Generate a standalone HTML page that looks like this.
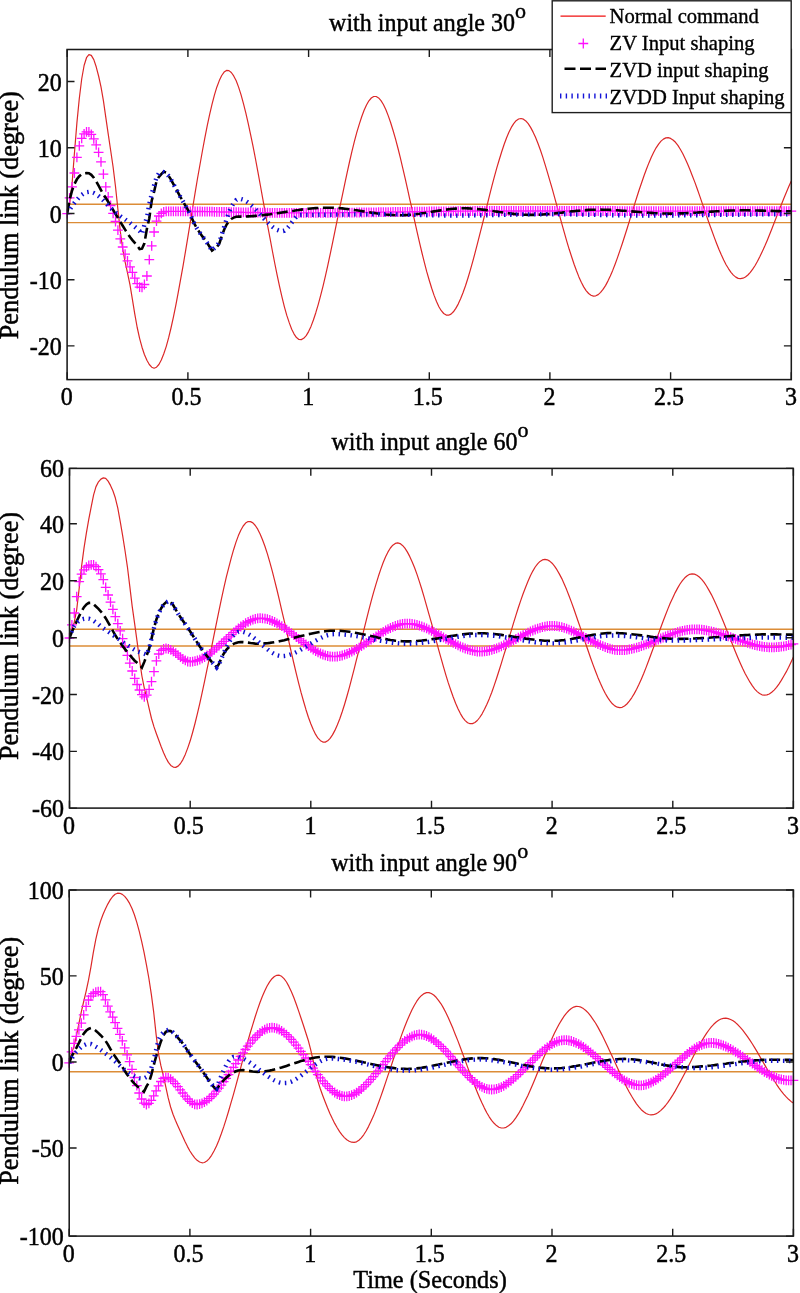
<!DOCTYPE html><html><head><meta charset="utf-8"><style>html,body{margin:0;padding:0;background:#fff;}svg{display:block}</style></head><body>
<svg width="800" height="1293" viewBox="0 0 800 1293" font-family="'Liberation Serif', 'Times New Roman', serif">
<rect width="800" height="1293" fill="#fff"/>
<clipPath id="c0"><rect x="67.1" y="49.5" width="724.2" height="330.1"/></clipPath>
<g stroke="#dc8c36" stroke-width="1.4"><line x1="67.1" y1="204.3" x2="791.3" y2="204.3"/><line x1="67.1" y1="222.6" x2="791.3" y2="222.6"/></g>
<polyline clip-path="url(#c0)" points="67.2,213.6 69.6,203.9 72.0,184.8 74.4,153.5 76.9,122.9 79.3,98.5 81.7,79.0 84.1,65.5 86.5,57.7 88.9,54.6 91.3,55.4 93.8,59.6 96.2,66.8 98.6,76.0 101.0,86.8 103.4,100.6 105.8,117.3 108.2,133.9 110.6,150.0 113.1,167.0 115.5,186.5 117.9,209.2 120.3,231.4 122.7,249.0 125.1,261.9 127.5,272.9 130.0,284.9 132.4,299.3 134.8,314.2 137.2,327.5 139.6,338.3 142.0,347.2 144.4,354.5 146.9,360.3 149.3,364.5 151.7,367.2 154.1,368.2 156.5,367.2 158.9,364.5 161.3,360.0 163.7,354.0 166.2,346.6 168.6,337.9 171.0,328.0 173.4,317.1 175.8,305.3 178.2,292.7 180.6,279.4 183.1,265.6 185.5,251.3 187.9,236.8 190.3,222.2 192.7,207.5 195.1,192.9 197.5,178.5 200.0,164.5 202.4,151.0 204.8,138.1 207.2,125.9 209.6,114.6 212.0,104.3 214.4,95.1 216.8,87.2 219.3,80.6 221.7,75.5 224.1,72.1 226.5,70.4 228.9,70.6 231.3,72.5 233.7,75.9 236.2,80.8 238.6,87.1 241.0,94.6 243.4,103.3 245.8,112.9 248.2,123.4 250.6,134.7 253.1,146.6 255.5,159.0 257.9,171.9 260.3,185.0 262.7,198.3 265.1,211.7 267.5,225.0 270.0,238.2 272.4,251.0 274.8,263.5 277.2,275.4 279.6,286.6 282.0,297.1 284.4,306.8 286.8,315.4 289.3,322.9 291.7,329.2 294.1,334.1 296.5,337.6 298.9,339.4 301.3,339.6 303.7,338.3 306.2,335.6 308.6,331.6 311.0,326.4 313.4,320.0 315.8,312.7 318.2,304.6 320.6,295.6 323.1,285.9 325.5,275.6 327.9,264.8 330.3,253.6 332.7,242.1 335.1,230.4 337.5,218.6 339.9,206.8 342.4,195.1 344.8,183.6 347.2,172.4 349.6,161.5 352.0,151.2 354.4,141.4 356.8,132.4 359.3,124.1 361.7,116.7 364.1,110.3 366.5,105.0 368.9,100.8 371.3,98.0 373.7,96.5 376.2,96.5 378.6,97.9 381.0,100.6 383.4,104.5 385.8,109.5 388.2,115.6 390.6,122.5 393.0,130.3 395.5,138.8 397.9,148.0 400.3,157.7 402.7,167.8 405.1,178.2 407.5,188.9 409.9,199.8 412.4,210.7 414.8,221.6 417.2,232.3 419.6,242.8 422.0,253.0 424.4,262.7 426.8,271.9 429.3,280.5 431.7,288.3 434.1,295.4 436.5,301.5 438.9,306.7 441.3,310.7 443.7,313.5 446.2,315.1 448.6,315.2 451.0,314.1 453.4,311.8 455.8,308.4 458.2,304.1 460.6,298.8 463.0,292.7 465.5,285.8 467.9,278.3 470.3,270.2 472.7,261.7 475.1,252.7 477.5,243.4 479.9,233.9 482.4,224.2 484.8,214.5 487.2,204.8 489.6,195.1 492.0,185.7 494.4,176.6 496.8,167.8 499.3,159.5 501.7,151.7 504.1,144.5 506.5,138.0 508.9,132.3 511.3,127.4 513.7,123.6 516.1,120.7 518.6,119.0 521.0,118.5 523.4,119.2 525.8,120.9 528.2,123.7 530.6,127.4 533.0,131.9 535.5,137.2 537.9,143.2 540.3,149.8 542.7,156.9 545.1,164.6 547.5,172.6 549.9,180.9 552.4,189.4 554.8,198.1 557.2,206.9 559.6,215.7 562.0,224.4 564.4,232.9 566.8,241.3 569.2,249.3 571.7,257.0 574.1,264.2 576.5,270.8 578.9,276.9 581.3,282.3 583.7,286.9 586.1,290.6 588.6,293.5 591.0,295.3 593.4,296.1 595.8,295.8 598.2,294.6 600.6,292.4 603.0,289.4 605.5,285.6 607.9,281.1 610.3,276.0 612.7,270.4 615.1,264.2 617.5,257.6 619.9,250.6 622.4,243.3 624.8,235.8 627.2,228.2 629.6,220.4 632.0,212.6 634.4,204.9 636.8,197.2 639.2,189.7 641.7,182.5 644.1,175.5 646.5,169.0 648.9,162.9 651.3,157.2 653.7,152.2 656.1,147.8 658.6,144.1 661.0,141.1 663.4,139.1 665.8,137.9 668.2,137.7 670.6,138.4 673.0,140.0 675.5,142.3 677.9,145.4 680.3,149.2 682.7,153.5 685.1,158.4 687.5,163.8 689.9,169.5 692.3,175.7 694.8,182.1 697.2,188.8 699.6,195.6 702.0,202.6 704.4,209.6 706.8,216.6 709.2,223.5 711.7,230.3 714.1,236.9 716.5,243.2 718.9,249.2 721.3,254.8 723.7,260.0 726.1,264.7 728.6,268.8 731.0,272.3 733.4,275.1 735.8,277.1 738.2,278.4 740.6,278.7 743.0,278.2 745.4,277.0 747.9,275.0 750.3,272.4 752.7,269.2 755.1,265.5 757.5,261.2 759.9,256.5 762.3,251.5 764.8,246.1 767.2,240.4 769.6,234.5 772.0,228.5 774.4,222.3 776.8,216.1 779.2,209.9 781.7,203.8 784.1,197.8 786.5,191.9 788.9,186.3 791.3,180.9" fill="none" stroke="#dc2828" stroke-width="1.2" stroke-linejoin="round"/>
<path d="M62.3 213.6h9.8M67.2 208.7v9.8M64.7 197.9h9.8M69.6 193.0v9.8M67.1 186.9h9.8M72.0 182.0v9.8M69.5 173.0h9.8M74.4 168.1v9.8M72.0 157.4h9.8M76.9 152.5v9.8M74.4 145.8h9.8M79.3 140.9v9.8M76.8 138.3h9.8M81.7 133.4v9.8M79.2 133.9h9.8M84.1 129.0v9.8M81.6 131.9h9.8M86.5 127.0v9.8M84.0 132.0h9.8M88.9 127.1v9.8M86.4 134.4h9.8M91.3 129.5v9.8M88.9 138.8h9.8M93.8 133.9v9.8M91.3 144.9h9.8M96.2 140.0v9.8M93.7 152.4h9.8M98.6 147.5v9.8M96.1 161.8h9.8M101.0 156.9v9.8M98.5 174.2h9.8M103.4 169.3v9.8M100.9 186.8h9.8M105.8 181.9v9.8M103.3 196.9h9.8M108.2 192.0v9.8M105.7 205.5h9.8M110.6 200.6v9.8M108.2 213.4h9.8M113.1 208.5v9.8M110.6 221.5h9.8M115.5 216.6v9.8M113.0 230.2h9.8M117.9 225.3v9.8M115.4 238.9h9.8M120.3 234.0v9.8M117.8 247.0h9.8M122.7 242.1v9.8M120.2 254.2h9.8M125.1 249.3v9.8M122.6 260.8h9.8M127.5 255.9v9.8M125.1 266.8h9.8M130.0 261.9v9.8M127.5 272.4h9.8M132.4 267.5v9.8M129.9 278.2h9.8M134.8 273.3v9.8M132.3 283.7h9.8M137.2 278.8v9.8M134.7 287.1h9.8M139.6 282.2v9.8M137.1 287.3h9.8M142.0 282.4v9.8M139.5 284.5h9.8M144.4 279.6v9.8M142.0 276.0h9.8M146.9 271.1v9.8M144.4 259.7h9.8M149.3 254.8v9.8M146.8 245.9h9.8M151.7 241.0v9.8M149.2 232.0h9.8M154.1 227.1v9.8M151.6 221.2h9.8M156.5 216.3v9.8M154.0 216.0h9.8M158.9 211.1v9.8M156.4 213.3h9.8M161.3 208.4v9.8M158.8 211.8h9.8M163.7 206.9v9.8M161.3 211.3h9.8M166.2 206.4v9.8M163.7 211.3h9.8M168.6 206.4v9.8M166.1 211.3h9.8M171.0 206.4v9.8M168.5 211.3h9.8M173.4 206.4v9.8M170.9 211.3h9.8M175.8 206.4v9.8M173.3 211.3h9.8M178.2 206.4v9.8M175.7 211.3h9.8M180.6 206.4v9.8M178.2 211.3h9.8M183.1 206.4v9.8M180.6 211.4h9.8M185.5 206.5v9.8M183.0 211.4h9.8M187.9 206.5v9.8M185.4 211.4h9.8M190.3 206.5v9.8M187.8 211.4h9.8M192.7 206.5v9.8M190.2 211.5h9.8M195.1 206.6v9.8M192.6 211.5h9.8M197.5 206.6v9.8M195.1 211.5h9.8M200.0 206.6v9.8M197.5 211.6h9.8M202.4 206.7v9.8M199.9 211.6h9.8M204.8 206.7v9.8M202.3 211.6h9.8M207.2 206.7v9.8M204.7 211.7h9.8M209.6 206.8v9.8M207.1 211.7h9.8M212.0 206.8v9.8M209.5 211.8h9.8M214.4 206.9v9.8M211.9 211.8h9.8M216.8 206.9v9.8M214.4 211.9h9.8M219.3 207.0v9.8M216.8 211.9h9.8M221.7 207.0v9.8M219.2 212.0h9.8M224.1 207.1v9.8M221.6 212.0h9.8M226.5 207.1v9.8M224.0 212.0h9.8M228.9 207.1v9.8M226.4 212.1h9.8M231.3 207.2v9.8M228.8 212.1h9.8M233.7 207.2v9.8M231.3 212.2h9.8M236.2 207.3v9.8M233.7 212.2h9.8M238.6 207.3v9.8M236.1 212.3h9.8M241.0 207.4v9.8M238.5 212.3h9.8M243.4 207.4v9.8M240.9 212.4h9.8M245.8 207.5v9.8M243.3 212.4h9.8M248.2 207.5v9.8M245.7 212.5h9.8M250.6 207.6v9.8M248.2 212.5h9.8M253.1 207.6v9.8M250.6 212.5h9.8M255.5 207.6v9.8M253.0 212.6h9.8M257.9 207.7v9.8M255.4 212.6h9.8M260.3 207.7v9.8M257.8 212.7h9.8M262.7 207.8v9.8M260.2 212.7h9.8M265.1 207.8v9.8M262.6 212.7h9.8M267.5 207.8v9.8M265.1 212.8h9.8M270.0 207.9v9.8M267.5 212.8h9.8M272.4 207.9v9.8M269.9 212.8h9.8M274.8 207.9v9.8M272.3 212.8h9.8M277.2 207.9v9.8M274.7 212.9h9.8M279.6 208.0v9.8M277.1 212.9h9.8M282.0 208.0v9.8M279.5 212.9h9.8M284.4 208.0v9.8M281.9 212.9h9.8M286.8 208.0v9.8M284.4 212.9h9.8M289.3 208.0v9.8M286.8 212.9h9.8M291.7 208.0v9.8M289.2 212.9h9.8M294.1 208.0v9.8M291.6 212.9h9.8M296.5 208.0v9.8M294.0 212.9h9.8M298.9 208.0v9.8M296.4 212.9h9.8M301.3 208.0v9.8M298.8 212.9h9.8M303.7 208.0v9.8M301.3 212.9h9.8M306.2 208.0v9.8M303.7 212.9h9.8M308.6 208.0v9.8M306.1 212.9h9.8M311.0 208.0v9.8M308.5 212.9h9.8M313.4 208.0v9.8M310.9 212.9h9.8M315.8 208.0v9.8M313.3 212.9h9.8M318.2 208.0v9.8M315.7 212.9h9.8M320.6 208.0v9.8M318.2 212.8h9.8M323.1 207.9v9.8M320.6 212.8h9.8M325.5 207.9v9.8M323.0 212.8h9.8M327.9 207.9v9.8M325.4 212.8h9.8M330.3 207.9v9.8M327.8 212.8h9.8M332.7 207.9v9.8M330.2 212.8h9.8M335.1 207.9v9.8M332.6 212.7h9.8M337.5 207.8v9.8M335.0 212.7h9.8M339.9 207.8v9.8M337.5 212.7h9.8M342.4 207.8v9.8M339.9 212.7h9.8M344.8 207.8v9.8M342.3 212.6h9.8M347.2 207.7v9.8M344.7 212.6h9.8M349.6 207.7v9.8M347.1 212.6h9.8M352.0 207.7v9.8M349.5 212.6h9.8M354.4 207.7v9.8M351.9 212.5h9.8M356.8 207.6v9.8M354.4 212.5h9.8M359.3 207.6v9.8M356.8 212.5h9.8M361.7 207.6v9.8M359.2 212.4h9.8M364.1 207.5v9.8M361.6 212.4h9.8M366.5 207.5v9.8M364.0 212.4h9.8M368.9 207.5v9.8M366.4 212.3h9.8M371.3 207.4v9.8M368.8 212.3h9.8M373.7 207.4v9.8M371.3 212.3h9.8M376.2 207.4v9.8M373.7 212.2h9.8M378.6 207.3v9.8M376.1 212.2h9.8M381.0 207.3v9.8M378.5 212.2h9.8M383.4 207.3v9.8M380.9 212.1h9.8M385.8 207.2v9.8M383.3 212.1h9.8M388.2 207.2v9.8M385.7 212.1h9.8M390.6 207.2v9.8M388.1 212.0h9.8M393.0 207.1v9.8M390.6 212.0h9.8M395.5 207.1v9.8M393.0 212.0h9.8M397.9 207.1v9.8M395.4 211.9h9.8M400.3 207.0v9.8M397.8 211.9h9.8M402.7 207.0v9.8M400.2 211.9h9.8M405.1 207.0v9.8M402.6 211.8h9.8M407.5 206.9v9.8M405.0 211.8h9.8M409.9 206.9v9.8M407.5 211.8h9.8M412.4 206.9v9.8M409.9 211.7h9.8M414.8 206.8v9.8M412.3 211.7h9.8M417.2 206.8v9.8M414.7 211.7h9.8M419.6 206.8v9.8M417.1 211.6h9.8M422.0 206.7v9.8M419.5 211.6h9.8M424.4 206.7v9.8M421.9 211.6h9.8M426.8 206.7v9.8M424.4 211.5h9.8M429.3 206.6v9.8M426.8 211.5h9.8M431.7 206.6v9.8M429.2 211.5h9.8M434.1 206.6v9.8M431.6 211.4h9.8M436.5 206.5v9.8M434.0 211.4h9.8M438.9 206.5v9.8M436.4 211.4h9.8M441.3 206.5v9.8M438.8 211.3h9.8M443.7 206.4v9.8M441.3 211.3h9.8M446.2 206.4v9.8M443.7 211.3h9.8M448.6 206.4v9.8M446.1 211.3h9.8M451.0 206.4v9.8M448.5 211.2h9.8M453.4 206.3v9.8M450.9 211.2h9.8M455.8 206.3v9.8M453.3 211.2h9.8M458.2 206.3v9.8M455.7 211.2h9.8M460.6 206.3v9.8M458.1 211.1h9.8M463.0 206.2v9.8M460.6 211.1h9.8M465.5 206.2v9.8M463.0 211.1h9.8M467.9 206.2v9.8M465.4 211.1h9.8M470.3 206.2v9.8M467.8 211.1h9.8M472.7 206.2v9.8M470.2 211.0h9.8M475.1 206.1v9.8M472.6 211.0h9.8M477.5 206.1v9.8M475.0 211.0h9.8M479.9 206.1v9.8M477.5 211.0h9.8M482.4 206.1v9.8M479.9 211.0h9.8M484.8 206.1v9.8M482.3 211.0h9.8M487.2 206.1v9.8M484.7 211.0h9.8M489.6 206.1v9.8M487.1 211.0h9.8M492.0 206.1v9.8M489.5 211.0h9.8M494.4 206.1v9.8M491.9 211.0h9.8M496.8 206.1v9.8M494.4 211.0h9.8M499.3 206.1v9.8M496.8 211.0h9.8M501.7 206.1v9.8M499.2 211.0h9.8M504.1 206.1v9.8M501.6 211.0h9.8M506.5 206.1v9.8M504.0 211.0h9.8M508.9 206.1v9.8M506.4 211.0h9.8M511.3 206.1v9.8M508.8 211.0h9.8M513.7 206.1v9.8M511.2 211.0h9.8M516.1 206.1v9.8M513.7 211.0h9.8M518.6 206.1v9.8M516.1 211.0h9.8M521.0 206.1v9.8M518.5 211.0h9.8M523.4 206.1v9.8M520.9 211.0h9.8M525.8 206.1v9.8M523.3 211.0h9.8M528.2 206.1v9.8M525.7 211.0h9.8M530.6 206.1v9.8M528.1 211.0h9.8M533.0 206.1v9.8M530.6 211.0h9.8M535.5 206.1v9.8M533.0 211.0h9.8M537.9 206.1v9.8M535.4 211.0h9.8M540.3 206.1v9.8M537.8 211.0h9.8M542.7 206.1v9.8M540.2 211.0h9.8M545.1 206.1v9.8M542.6 211.0h9.8M547.5 206.1v9.8M545.0 211.0h9.8M549.9 206.1v9.8M547.5 211.0h9.8M552.4 206.1v9.8M549.9 211.0h9.8M554.8 206.1v9.8M552.3 211.0h9.8M557.2 206.1v9.8M554.7 211.0h9.8M559.6 206.1v9.8M557.1 211.0h9.8M562.0 206.1v9.8M559.5 211.0h9.8M564.4 206.1v9.8M561.9 211.0h9.8M566.8 206.1v9.8M564.3 211.0h9.8M569.2 206.1v9.8M566.8 211.0h9.8M571.7 206.1v9.8M569.2 211.0h9.8M574.1 206.1v9.8M571.6 211.0h9.8M576.5 206.1v9.8M574.0 211.0h9.8M578.9 206.1v9.8M576.4 211.0h9.8M581.3 206.1v9.8M578.8 211.0h9.8M583.7 206.1v9.8M581.2 211.0h9.8M586.1 206.1v9.8M583.7 211.0h9.8M588.6 206.1v9.8M586.1 211.0h9.8M591.0 206.1v9.8M588.5 211.0h9.8M593.4 206.1v9.8M590.9 211.0h9.8M595.8 206.1v9.8M593.3 211.0h9.8M598.2 206.1v9.8M595.7 211.0h9.8M600.6 206.1v9.8M598.1 211.0h9.8M603.0 206.1v9.8M600.6 211.0h9.8M605.5 206.1v9.8M603.0 211.0h9.8M607.9 206.1v9.8M605.4 211.0h9.8M610.3 206.1v9.8M607.8 211.0h9.8M612.7 206.1v9.8M610.2 211.0h9.8M615.1 206.1v9.8M612.6 211.1h9.8M617.5 206.2v9.8M615.0 211.1h9.8M619.9 206.2v9.8M617.5 211.1h9.8M622.4 206.2v9.8M619.9 211.1h9.8M624.8 206.2v9.8M622.3 211.1h9.8M627.2 206.2v9.8M624.7 211.1h9.8M629.6 206.2v9.8M627.1 211.1h9.8M632.0 206.2v9.8M629.5 211.1h9.8M634.4 206.2v9.8M631.9 211.1h9.8M636.8 206.2v9.8M634.3 211.1h9.8M639.2 206.2v9.8M636.8 211.1h9.8M641.7 206.2v9.8M639.2 211.1h9.8M644.1 206.2v9.8M641.6 211.1h9.8M646.5 206.2v9.8M644.0 211.1h9.8M648.9 206.2v9.8M646.4 211.1h9.8M651.3 206.2v9.8M648.8 211.1h9.8M653.7 206.2v9.8M651.2 211.1h9.8M656.1 206.2v9.8M653.7 211.1h9.8M658.6 206.2v9.8M656.1 211.1h9.8M661.0 206.2v9.8M658.5 211.1h9.8M663.4 206.2v9.8M660.9 211.1h9.8M665.8 206.2v9.8M663.3 211.1h9.8M668.2 206.2v9.8M665.7 211.1h9.8M670.6 206.2v9.8M668.1 211.1h9.8M673.0 206.2v9.8M670.6 211.1h9.8M675.5 206.2v9.8M673.0 211.1h9.8M677.9 206.2v9.8M675.4 211.1h9.8M680.3 206.2v9.8M677.8 211.1h9.8M682.7 206.2v9.8M680.2 211.1h9.8M685.1 206.2v9.8M682.6 211.1h9.8M687.5 206.2v9.8M685.0 211.1h9.8M689.9 206.2v9.8M687.4 211.2h9.8M692.3 206.3v9.8M689.9 211.2h9.8M694.8 206.3v9.8M692.3 211.2h9.8M697.2 206.3v9.8M694.7 211.2h9.8M699.6 206.3v9.8M697.1 211.2h9.8M702.0 206.3v9.8M699.5 211.2h9.8M704.4 206.3v9.8M701.9 211.2h9.8M706.8 206.3v9.8M704.3 211.2h9.8M709.2 206.3v9.8M706.8 211.2h9.8M711.7 206.3v9.8M709.2 211.2h9.8M714.1 206.3v9.8M711.6 211.2h9.8M716.5 206.3v9.8M714.0 211.2h9.8M718.9 206.3v9.8M716.4 211.2h9.8M721.3 206.3v9.8M718.8 211.2h9.8M723.7 206.3v9.8M721.2 211.2h9.8M726.1 206.3v9.8M723.7 211.2h9.8M728.6 206.3v9.8M726.1 211.2h9.8M731.0 206.3v9.8M728.5 211.2h9.8M733.4 206.3v9.8M730.9 211.2h9.8M735.8 206.3v9.8M733.3 211.2h9.8M738.2 206.3v9.8M735.7 211.2h9.8M740.6 206.3v9.8M738.1 211.2h9.8M743.0 206.3v9.8M740.5 211.2h9.8M745.4 206.3v9.8M743.0 211.2h9.8M747.9 206.3v9.8M745.4 211.2h9.8M750.3 206.3v9.8M747.8 211.2h9.8M752.7 206.3v9.8M750.2 211.2h9.8M755.1 206.3v9.8M752.6 211.2h9.8M757.5 206.3v9.8M755.0 211.2h9.8M759.9 206.3v9.8M757.4 211.2h9.8M762.3 206.3v9.8M759.9 211.2h9.8M764.8 206.3v9.8M762.3 211.2h9.8M767.2 206.3v9.8M764.7 211.2h9.8M769.6 206.3v9.8M767.1 211.2h9.8M772.0 206.3v9.8M769.5 211.2h9.8M774.4 206.3v9.8M771.9 211.2h9.8M776.8 206.3v9.8M774.3 211.2h9.8M779.2 206.3v9.8M776.8 211.2h9.8M781.7 206.3v9.8M779.2 211.2h9.8M784.1 206.3v9.8M781.6 211.2h9.8M786.5 206.3v9.8M784.0 211.2h9.8M788.9 206.3v9.8M786.4 211.2h9.8M791.3 206.3v9.8" fill="none" stroke="#ff10ff" stroke-width="1.3"/>
<polyline clip-path="url(#c0)" points="67.2,213.6 69.6,200.1 72.0,190.7 74.4,184.1 76.9,179.3 79.3,176.2 81.7,174.3 84.1,173.3 86.5,173.0 88.9,173.2 91.3,174.8 93.8,177.7 96.2,181.5 98.6,185.7 101.0,190.1 103.4,194.3 105.8,198.0 108.2,201.8 110.6,205.8 113.1,209.9 115.5,213.9 117.9,217.8 120.3,221.8 122.7,225.7 125.1,229.6 127.5,233.4 130.0,237.1 132.4,240.1 134.8,242.8 137.2,245.6 139.6,249.1 142.0,248.7 144.4,243.3 146.9,228.8 149.3,218.2 151.7,200.7 154.1,191.8 156.5,181.2 158.9,176.9 161.3,174.1 163.7,171.8 166.2,172.6 168.6,175.8 171.0,179.6 173.4,184.1 175.8,188.5 178.2,192.9 180.6,197.3 183.1,201.6 185.5,205.8 187.9,209.9 190.3,214.4 192.7,219.9 195.1,225.2 197.5,229.3 200.0,233.0 202.4,236.4 204.8,239.5 207.2,242.9 209.6,246.8 212.0,250.6 214.4,248.8 216.8,247.2 219.3,243.6 221.7,236.3 224.1,229.8 226.5,224.8 228.9,221.3 231.3,219.0 233.7,217.6 236.2,216.8 238.6,216.6 241.0,216.6 243.4,216.6 245.8,216.5 248.2,216.4 250.6,216.3 253.1,216.1 255.5,215.9 257.9,215.7 260.3,215.4 262.7,215.2 265.1,214.9 267.5,214.6 270.0,214.3 272.4,213.9 274.8,213.6 277.2,213.2 279.6,212.9 282.0,212.5 284.4,212.1 286.8,211.7 289.3,211.4 291.7,211.0 294.1,210.7 296.5,210.3 298.9,210.0 301.3,209.6 303.7,209.3 306.2,209.0 308.6,208.8 311.0,208.5 313.4,208.3 315.8,208.1 318.2,208.0 320.6,207.8 323.1,207.7 325.5,207.7 327.9,207.7 330.3,207.7 332.7,207.8 335.1,207.9 337.5,208.0 339.9,208.2 342.4,208.4 344.8,208.7 347.2,209.0 349.6,209.3 352.0,209.6 354.4,210.0 356.8,210.3 359.3,210.7 361.7,211.1 364.1,211.5 366.5,211.8 368.9,212.2 371.3,212.6 373.7,212.9 376.2,213.3 378.6,213.6 381.0,213.9 383.4,214.2 385.8,214.5 388.2,214.7 390.6,214.9 393.0,215.0 395.5,215.2 397.9,215.2 400.3,215.3 402.7,215.2 405.1,215.1 407.5,215.0 409.9,214.8 412.4,214.6 414.8,214.3 417.2,214.0 419.6,213.7 422.0,213.3 424.4,213.0 426.8,212.6 429.3,212.2 431.7,211.8 434.1,211.4 436.5,211.0 438.9,210.6 441.3,210.2 443.7,209.9 446.2,209.6 448.6,209.3 451.0,209.0 453.4,208.8 455.8,208.6 458.2,208.4 460.6,208.3 463.0,208.3 465.5,208.3 467.9,208.4 470.3,208.5 472.7,208.7 475.1,208.9 477.5,209.1 479.9,209.3 482.4,209.6 484.8,209.9 487.2,210.2 489.6,210.6 492.0,210.9 494.4,211.3 496.8,211.6 499.3,212.0 501.7,212.3 504.1,212.7 506.5,213.0 508.9,213.3 511.3,213.6 513.7,213.9 516.1,214.1 518.6,214.4 521.0,214.6 523.4,214.7 525.8,214.8 528.2,214.9 530.6,214.9 533.0,214.9 535.5,214.8 537.9,214.8 540.3,214.6 542.7,214.5 545.1,214.3 547.5,214.1 549.9,213.9 552.4,213.6 554.8,213.4 557.2,213.1 559.6,212.8 562.0,212.6 564.4,212.3 566.8,212.0 569.2,211.7 571.7,211.4 574.1,211.2 576.5,210.9 578.9,210.7 581.3,210.5 583.7,210.3 586.1,210.1 588.6,209.9 591.0,209.8 593.4,209.7 595.8,209.7 598.2,209.6 600.6,209.6 603.0,209.7 605.5,209.7 607.9,209.8 610.3,209.9 612.7,210.0 615.1,210.2 617.5,210.3 619.9,210.5 622.4,210.7 624.8,210.8 627.2,211.0 629.6,211.2 632.0,211.4 634.4,211.6 636.8,211.8 639.2,212.0 641.7,212.2 644.1,212.4 646.5,212.6 648.9,212.7 651.3,212.9 653.7,213.1 656.1,213.2 658.6,213.3 661.0,213.4 663.4,213.5 665.8,213.5 668.2,213.6 670.6,213.6 673.0,213.6 675.5,213.6 677.9,213.5 680.3,213.4 682.7,213.4 685.1,213.3 687.5,213.1 689.9,213.0 692.3,212.9 694.8,212.7 697.2,212.6 699.6,212.4 702.0,212.3 704.4,212.1 706.8,211.9 709.2,211.8 711.7,211.6 714.1,211.5 716.5,211.3 718.9,211.2 721.3,211.0 723.7,210.9 726.1,210.8 728.6,210.6 731.0,210.5 733.4,210.5 735.8,210.4 738.2,210.3 740.6,210.3 743.0,210.3 745.4,210.3 747.9,210.3 750.3,210.4 752.7,210.4 755.1,210.5 757.5,210.5 759.9,210.6 762.3,210.6 764.8,210.7 767.2,210.8 769.6,210.9 772.0,210.9 774.4,211.0 776.8,211.1 779.2,211.1 781.7,211.2 784.1,211.2 786.5,211.3 788.9,211.3 791.3,211.3" fill="none" stroke="#000" stroke-width="2.6" stroke-dasharray="11 4.5"/>
<polyline clip-path="url(#c0)" points="67.2,213.6 69.6,209.8 72.0,206.2 74.4,202.9 76.9,199.8 79.3,197.1 81.7,194.9 84.1,193.2 86.5,192.2 88.9,191.8 91.3,192.1 93.8,193.0 96.2,194.4 98.6,196.1 101.0,198.2 103.4,200.5 105.8,203.0 108.2,205.5 110.6,207.9 113.1,210.3 115.5,212.4 117.9,214.3 120.3,216.1 122.7,217.8 125.1,219.4 127.5,221.2 130.0,222.9 132.4,224.8 134.8,226.8 137.2,228.8 139.6,231.0 142.0,234.1 144.4,224.9 146.9,217.3 149.3,203.9 151.7,194.0 154.1,185.1 156.5,177.4 158.9,173.2 161.3,171.7 163.7,172.2 166.2,173.7 168.6,176.0 171.0,179.5 173.4,184.1 175.8,188.5 178.2,192.9 180.6,197.3 183.1,201.6 185.5,205.8 187.9,209.9 190.3,214.4 192.7,219.9 195.1,225.2 197.5,229.3 200.0,233.0 202.4,236.4 204.8,239.5 207.2,242.9 209.6,246.8 212.0,250.5 214.4,248.1 216.8,246.2 219.3,242.2 221.7,234.8 224.1,226.8 226.5,219.4 228.9,212.4 231.3,207.2 233.7,203.0 236.2,200.0 238.6,198.8 241.0,199.0 243.4,199.7 245.8,201.0 248.2,202.6 250.6,204.6 253.1,206.8 255.5,209.3 257.9,211.9 260.3,214.6 262.7,217.3 265.1,219.9 267.5,222.4 270.0,224.7 272.4,226.8 274.8,228.5 277.2,229.9 279.6,230.8 282.0,231.2 284.4,230.7 286.8,228.7 289.3,225.9 291.7,222.6 294.1,219.4 296.5,216.7 298.9,215.1 301.3,214.9 303.7,214.9 306.2,214.9 308.6,214.9 311.0,214.9 313.4,214.9 315.8,214.9 318.2,214.8 320.6,214.8 323.1,214.8 325.5,214.8 327.9,214.7 330.3,214.7 332.7,214.7 335.1,214.7 337.5,214.6 339.9,214.6 342.4,214.6 344.8,214.5 347.2,214.5 349.6,214.5 352.0,214.5 354.4,214.4 356.8,214.4 359.3,214.4 361.7,214.4 364.1,214.3 366.5,214.3 368.9,214.3 371.3,214.3 373.7,214.3 376.2,214.3 378.6,214.3 381.0,214.3 383.4,214.3 385.8,214.3 388.2,214.3 390.6,214.3 393.0,214.4 395.5,214.4 397.9,214.4 400.3,214.5 402.7,214.5 405.1,214.6 407.5,214.7 409.9,214.7 412.4,214.8 414.8,214.9 417.2,214.9 419.6,215.0 422.0,215.1 424.4,215.1 426.8,215.2 429.3,215.2 431.7,215.3 434.1,215.3 436.5,215.4 438.9,215.4 441.3,215.5 443.7,215.5 446.2,215.5 448.6,215.6 451.0,215.6 453.4,215.6 455.8,215.6 458.2,215.6 460.6,215.6 463.0,215.5 465.5,215.5 467.9,215.5 470.3,215.5 472.7,215.4 475.1,215.4 477.5,215.4 479.9,215.3 482.4,215.3 484.8,215.3 487.2,215.2 489.6,215.2 492.0,215.1 494.4,215.1 496.8,215.0 499.3,215.0 501.7,214.9 504.1,214.9 506.5,214.8 508.9,214.8 511.3,214.7 513.7,214.7 516.1,214.6 518.6,214.6 521.0,214.5 523.4,214.5 525.8,214.5 528.2,214.4 530.6,214.4 533.0,214.4 535.5,214.3 537.9,214.3 540.3,214.3 542.7,214.3 545.1,214.3 547.5,214.3 549.9,214.3 552.4,214.3 554.8,214.3 557.2,214.3 559.6,214.3 562.0,214.3 564.4,214.3 566.8,214.4 569.2,214.4 571.7,214.4 574.1,214.5 576.5,214.5 578.9,214.5 581.3,214.6 583.7,214.6 586.1,214.7 588.6,214.7 591.0,214.8 593.4,214.8 595.8,214.9 598.2,214.9 600.6,215.0 603.0,215.0 605.5,215.1 607.9,215.1 610.3,215.2 612.7,215.2 615.1,215.3 617.5,215.3 619.9,215.3 622.4,215.4 624.8,215.4 627.2,215.4 629.6,215.5 632.0,215.5 634.4,215.5 636.8,215.5 639.2,215.6 641.7,215.6 644.1,215.6 646.5,215.6 648.9,215.6 651.3,215.6 653.7,215.6 656.1,215.6 658.6,215.6 661.0,215.5 663.4,215.5 665.8,215.5 668.2,215.5 670.6,215.5 673.0,215.5 675.5,215.4 677.9,215.4 680.3,215.4 682.7,215.4 685.1,215.3 687.5,215.3 689.9,215.3 692.3,215.3 694.8,215.2 697.2,215.2 699.6,215.2 702.0,215.1 704.4,215.1 706.8,215.1 709.2,215.1 711.7,215.0 714.1,215.0 716.5,215.0 718.9,214.9 721.3,214.9 723.7,214.9 726.1,214.8 728.6,214.8 731.0,214.8 733.4,214.7 735.8,214.7 738.2,214.7 740.6,214.6 743.0,214.6 745.4,214.6 747.9,214.5 750.3,214.5 752.7,214.5 755.1,214.5 757.5,214.4 759.9,214.4 762.3,214.4 764.8,214.4 767.2,214.4 769.6,214.3 772.0,214.3 774.4,214.3 776.8,214.3 779.2,214.3 781.7,214.3 784.1,214.3 786.5,214.3 788.9,214.3 791.3,214.3" fill="none" stroke="#1010d0" stroke-width="4.4" stroke-dasharray="1.5 4.5"/>
<rect x="67.1" y="49.5" width="724.2" height="330.1" fill="none" stroke="#1a1a1a" stroke-width="1.55"/>
<path d="M67.2 379.6v-7.4M67.2 49.5v7.4M187.9 379.6v-7.4M187.9 49.5v7.4M308.6 379.6v-7.4M308.6 49.5v7.4M429.3 379.6v-7.4M429.3 49.5v7.4M549.9 379.6v-7.4M549.9 49.5v7.4M670.6 379.6v-7.4M670.6 49.5v7.4M791.3 379.6v-7.4M791.3 49.5v7.4M67.1 81.5h7.4M791.3 81.5h-7.4M67.1 147.8h7.4M791.3 147.8h-7.4M67.1 213.5h7.4M791.3 213.5h-7.4M67.1 279.8h7.4M791.3 279.8h-7.4M67.1 345.9h7.4M791.3 345.9h-7.4" stroke="#1a1a1a" stroke-width="1.4"/>
<text transform="translate(66.8,405.4) scale(1,1.06)" font-size="24" text-anchor="middle" stroke="#000" stroke-width="0.45">0</text>
<text transform="translate(186.4,405.4) scale(1,1.06)" font-size="24" text-anchor="middle" stroke="#000" stroke-width="0.45">0.5</text>
<text transform="translate(308.2,405.4) scale(1,1.06)" font-size="24" text-anchor="middle" stroke="#000" stroke-width="0.45">1</text>
<text transform="translate(427.8,405.4) scale(1,1.06)" font-size="24" text-anchor="middle" stroke="#000" stroke-width="0.45">1.5</text>
<text transform="translate(549.5,405.4) scale(1,1.06)" font-size="24" text-anchor="middle" stroke="#000" stroke-width="0.45">2</text>
<text transform="translate(669.1,405.4) scale(1,1.06)" font-size="24" text-anchor="middle" stroke="#000" stroke-width="0.45">2.5</text>
<text transform="translate(790.9,405.4) scale(1,1.06)" font-size="24" text-anchor="middle" stroke="#000" stroke-width="0.45">3</text>
<text transform="translate(61.7,90.5) scale(1,1.06)" font-size="24" text-anchor="end" stroke="#000" stroke-width="0.45">20</text>
<text transform="translate(61.7,156.8) scale(1,1.06)" font-size="24" text-anchor="end" stroke="#000" stroke-width="0.45">10</text>
<text transform="translate(61.7,222.5) scale(1,1.06)" font-size="24" text-anchor="end" stroke="#000" stroke-width="0.45">0</text>
<text transform="translate(61.7,288.8) scale(1,1.06)" font-size="24" text-anchor="end" stroke="#000" stroke-width="0.45">-10</text>
<text transform="translate(61.7,354.9) scale(1,1.06)" font-size="24" text-anchor="end" stroke="#000" stroke-width="0.45">-20</text>
<text transform="translate(329.1,30.6) scale(1,1.06)" font-size="24" stroke="#000" stroke-width="0.45">with input angle 30</text>
<text x="515.1" y="17.6" font-size="22" stroke="#000" stroke-width="0.45">o</text>
<text transform="translate(18.3,215.2) rotate(-90) scale(1.095,1.12)" font-size="24" text-anchor="middle" stroke="#000" stroke-width="0.45">Pendulum link (degree)</text>
<clipPath id="c1"><rect x="69.5" y="468.4" width="723.8" height="339.7"/></clipPath>
<g stroke="#dc8c36" stroke-width="1.4"><line x1="69.5" y1="629.2" x2="793.3" y2="629.2"/><line x1="69.5" y1="646.0" x2="793.3" y2="646.0"/></g>
<polyline clip-path="url(#c1)" points="69.5,638.0 71.9,629.1 74.3,622.2 76.7,609.6 79.2,588.3 81.6,566.1 84.0,548.2 86.4,532.8 88.8,519.2 91.2,506.9 93.6,494.9 96.0,486.6 98.5,481.8 100.9,479.1 103.3,477.9 105.7,478.4 108.1,481.1 110.5,485.4 112.9,490.7 115.3,497.8 117.8,508.2 120.2,521.3 122.6,535.4 125.0,550.5 127.4,566.8 129.8,586.4 132.2,606.4 134.7,624.2 137.1,641.6 139.5,659.6 141.9,676.0 144.3,688.1 146.7,697.9 149.1,708.3 151.5,718.5 154.0,726.9 156.4,733.8 158.8,740.3 161.2,746.8 163.6,752.8 166.0,758.0 168.4,762.4 170.8,765.4 173.3,767.1 175.7,767.4 178.1,766.1 180.5,763.5 182.9,759.6 185.3,754.4 187.7,748.1 190.2,740.8 192.6,732.5 195.0,723.5 197.4,713.7 199.8,703.3 202.2,692.4 204.6,681.1 207.0,669.4 209.5,657.6 211.9,645.6 214.3,633.6 216.7,621.8 219.1,610.1 221.5,598.7 223.9,587.7 226.3,577.2 228.8,567.3 231.2,558.1 233.6,549.7 236.0,542.1 238.4,535.6 240.8,530.2 243.2,526.0 245.6,523.1 248.1,521.6 250.5,521.6 252.9,522.9 255.3,525.5 257.7,529.2 260.1,534.0 262.5,539.8 265.0,546.5 267.4,553.9 269.8,562.1 272.2,570.9 274.6,580.3 277.0,590.0 279.4,600.2 281.8,610.6 284.3,621.2 286.7,631.8 289.1,642.5 291.5,653.1 293.9,663.5 296.3,673.6 298.7,683.4 301.1,692.7 303.6,701.5 306.0,709.7 308.4,717.2 310.8,723.8 313.2,729.6 315.6,734.4 318.0,738.2 320.5,740.7 322.9,742.1 325.3,742.1 327.7,740.8 330.1,738.4 332.5,734.9 334.9,730.4 337.3,725.0 339.8,718.8 342.2,711.8 344.6,704.2 347.0,696.0 349.4,687.3 351.8,678.2 354.2,668.9 356.6,659.2 359.1,649.5 361.5,639.6 363.9,629.8 366.3,620.1 368.7,610.6 371.1,601.4 373.5,592.6 376.0,584.2 378.4,576.3 380.8,569.1 383.2,562.5 385.6,556.8 388.0,551.9 390.4,548.0 392.8,545.2 395.3,543.4 397.7,542.9 400.1,543.6 402.5,545.4 404.9,548.2 407.3,551.9 409.7,556.4 412.1,561.7 414.6,567.8 417.0,574.4 419.4,581.6 421.8,589.3 424.2,597.4 426.6,605.8 429.0,614.4 431.5,623.2 433.9,632.0 436.3,640.9 438.7,649.8 441.1,658.4 443.5,666.9 445.9,675.1 448.3,682.9 450.8,690.2 453.2,697.0 455.6,703.3 458.0,708.8 460.4,713.6 462.8,717.6 465.2,720.6 467.6,722.7 470.1,723.7 472.5,723.6 474.9,722.5 477.3,720.5 479.7,717.5 482.1,713.8 484.5,709.3 486.9,704.2 489.4,698.4 491.8,692.2 494.2,685.4 496.6,678.3 499.0,670.8 501.4,663.1 503.8,655.2 506.3,647.2 508.7,639.2 511.1,631.1 513.5,623.2 515.9,615.4 518.3,607.8 520.7,600.6 523.1,593.7 525.6,587.2 528.0,581.2 530.4,575.8 532.8,571.1 535.2,567.0 537.6,563.8 540.0,561.4 542.4,559.9 544.9,559.3 547.3,559.8 549.7,561.1 552.1,563.2 554.5,566.1 556.9,569.7 559.3,573.9 561.8,578.6 564.2,583.9 566.6,589.6 569.0,595.7 571.4,602.1 573.8,608.8 576.2,615.7 578.6,622.8 581.1,629.9 583.5,637.1 585.9,644.3 588.3,651.3 590.7,658.2 593.1,664.9 595.5,671.3 597.9,677.4 600.4,683.2 602.8,688.4 605.2,693.2 607.6,697.4 610.0,700.9 612.4,703.8 614.8,705.9 617.3,707.2 619.7,707.7 622.1,707.3 624.5,706.0 626.9,704.0 629.3,701.2 631.7,697.8 634.1,693.9 636.6,689.3 639.0,684.3 641.4,678.9 643.8,673.2 646.2,667.1 648.6,660.8 651.0,654.3 653.4,647.7 655.9,641.1 658.3,634.4 660.7,627.8 663.1,621.3 665.5,615.0 667.9,608.9 670.3,603.1 672.8,597.7 675.2,592.6 677.6,588.1 680.0,584.0 682.4,580.6 684.8,577.8 687.2,575.7 689.6,574.3 692.1,573.8 694.5,574.1 696.9,575.2 699.3,577.0 701.7,579.4 704.1,582.4 706.5,586.0 708.9,590.1 711.4,594.6 713.8,599.5 716.2,604.7 718.6,610.2 721.0,616.0 723.4,621.8 725.8,627.8 728.2,633.9 730.7,640.0 733.1,646.0 735.5,651.9 737.9,657.7 740.3,663.2 742.7,668.5 745.1,673.5 747.6,678.0 750.0,682.2 752.4,685.9 754.8,689.1 757.2,691.6 759.6,693.5 762.0,694.8 764.4,695.2 766.9,694.9 769.3,694.0 771.7,692.3 774.1,690.1 776.5,687.4 778.9,684.1 781.3,680.4 783.7,676.3 786.2,671.9 788.6,667.2 791.0,662.2 793.4,657.0" fill="none" stroke="#dc2828" stroke-width="1.2" stroke-linejoin="round"/>
<path d="M64.6 638.0h9.8M69.5 633.1v9.8M67.0 624.9h9.8M71.9 620.0v9.8M69.4 613.0h9.8M74.3 608.1v9.8M71.8 596.6h9.8M76.7 591.7v9.8M74.3 581.7h9.8M79.2 576.8v9.8M76.7 574.1h9.8M81.6 569.2v9.8M79.1 569.9h9.8M84.0 565.0v9.8M81.5 567.1h9.8M86.4 562.2v9.8M83.9 565.5h9.8M88.8 560.6v9.8M86.3 564.8h9.8M91.2 559.9v9.8M88.7 564.9h9.8M93.6 560.0v9.8M91.1 566.6h9.8M96.0 561.7v9.8M93.6 569.7h9.8M98.5 564.8v9.8M96.0 573.9h9.8M100.9 569.0v9.8M98.4 579.7h9.8M103.3 574.8v9.8M100.8 587.3h9.8M105.7 582.4v9.8M103.2 595.0h9.8M108.1 590.1v9.8M105.6 602.2h9.8M110.5 597.3v9.8M108.0 609.4h9.8M112.9 604.5v9.8M110.4 616.6h9.8M115.3 611.7v9.8M112.9 623.7h9.8M117.8 618.8v9.8M115.3 630.9h9.8M120.2 626.0v9.8M117.7 638.7h9.8M122.6 633.8v9.8M120.1 647.0h9.8M125.0 642.1v9.8M122.5 655.4h9.8M127.4 650.5v9.8M124.9 663.2h9.8M129.8 658.3v9.8M127.3 671.0h9.8M132.2 666.1v9.8M129.8 678.3h9.8M134.7 673.4v9.8M132.2 684.5h9.8M137.1 679.6v9.8M134.6 690.0h9.8M139.5 685.1v9.8M137.0 694.6h9.8M141.9 689.7v9.8M139.4 696.9h9.8M144.3 692.0v9.8M141.8 695.1h9.8M146.7 690.2v9.8M144.2 689.3h9.8M149.1 684.4v9.8M146.6 681.7h9.8M151.5 676.8v9.8M149.1 671.6h9.8M154.0 666.7v9.8M151.5 660.9h9.8M156.4 656.0v9.8M153.9 654.0h9.8M158.8 649.1v9.8M156.3 650.4h9.8M161.2 645.5v9.8M158.7 648.9h9.8M163.6 644.0v9.8M161.1 648.5h9.8M166.0 643.6v9.8M163.5 648.9h9.8M168.4 644.0v9.8M165.9 649.9h9.8M170.8 645.0v9.8M168.4 651.4h9.8M173.3 646.5v9.8M170.8 653.2h9.8M175.7 648.3v9.8M173.2 655.2h9.8M178.1 650.3v9.8M175.6 657.1h9.8M180.5 652.2v9.8M178.0 659.0h9.8M182.9 654.1v9.8M180.4 660.4h9.8M185.3 655.5v9.8M182.8 661.5h9.8M187.7 656.6v9.8M185.2 661.8h9.8M190.2 656.9v9.8M187.7 661.7h9.8M192.6 656.8v9.8M190.1 661.2h9.8M195.0 656.3v9.8M192.5 660.5h9.8M197.4 655.6v9.8M194.9 659.6h9.8M199.8 654.7v9.8M197.3 658.4h9.8M202.2 653.5v9.8M199.7 657.0h9.8M204.6 652.1v9.8M202.1 655.5h9.8M207.0 650.6v9.8M204.6 653.8h9.8M209.5 648.9v9.8M207.0 651.9h9.8M211.9 647.0v9.8M209.4 649.9h9.8M214.3 645.0v9.8M211.8 647.9h9.8M216.7 643.0v9.8M214.2 645.7h9.8M219.1 640.8v9.8M216.6 643.5h9.8M221.5 638.6v9.8M219.0 641.3h9.8M223.9 636.4v9.8M221.4 639.0h9.8M226.3 634.1v9.8M223.9 636.8h9.8M228.8 631.9v9.8M226.3 634.6h9.8M231.2 629.7v9.8M228.7 632.4h9.8M233.6 627.5v9.8M231.1 630.3h9.8M236.0 625.4v9.8M233.5 628.4h9.8M238.4 623.5v9.8M235.9 626.5h9.8M240.8 621.6v9.8M238.3 624.8h9.8M243.2 619.9v9.8M240.7 623.2h9.8M245.6 618.3v9.8M243.2 621.8h9.8M248.1 616.9v9.8M245.6 620.6h9.8M250.5 615.7v9.8M248.0 619.6h9.8M252.9 614.7v9.8M250.4 618.9h9.8M255.3 614.0v9.8M252.8 618.4h9.8M257.7 613.5v9.8M255.2 618.2h9.8M260.1 613.3v9.8M257.6 618.3h9.8M262.5 613.4v9.8M260.1 618.7h9.8M265.0 613.8v9.8M262.5 619.2h9.8M267.4 614.3v9.8M264.9 620.0h9.8M269.8 615.1v9.8M267.3 620.9h9.8M272.2 616.0v9.8M269.7 622.0h9.8M274.6 617.1v9.8M272.1 623.3h9.8M277.0 618.4v9.8M274.5 624.7h9.8M279.4 619.8v9.8M276.9 626.2h9.8M281.8 621.3v9.8M279.4 627.9h9.8M284.3 623.0v9.8M281.8 629.6h9.8M286.7 624.7v9.8M284.2 631.4h9.8M289.1 626.5v9.8M286.6 633.2h9.8M291.5 628.3v9.8M289.0 635.1h9.8M293.9 630.2v9.8M291.4 637.0h9.8M296.3 632.1v9.8M293.8 638.9h9.8M298.7 634.0v9.8M296.2 640.8h9.8M301.1 635.9v9.8M298.7 642.7h9.8M303.6 637.8v9.8M301.1 644.5h9.8M306.0 639.6v9.8M303.5 646.2h9.8M308.4 641.3v9.8M305.9 647.9h9.8M310.8 643.0v9.8M308.3 649.5h9.8M313.2 644.6v9.8M310.7 651.0h9.8M315.6 646.1v9.8M313.1 652.3h9.8M318.0 647.4v9.8M315.6 653.5h9.8M320.5 648.6v9.8M318.0 654.5h9.8M322.9 649.6v9.8M320.4 655.4h9.8M325.3 650.5v9.8M322.8 656.0h9.8M327.7 651.1v9.8M325.2 656.5h9.8M330.1 651.6v9.8M327.6 656.7h9.8M332.5 651.8v9.8M330.0 656.7h9.8M334.9 651.8v9.8M332.4 656.5h9.8M337.3 651.6v9.8M334.9 656.1h9.8M339.8 651.2v9.8M337.3 655.5h9.8M342.2 650.6v9.8M339.7 654.7h9.8M344.6 649.8v9.8M342.1 653.8h9.8M347.0 648.9v9.8M344.5 652.8h9.8M349.4 647.9v9.8M346.9 651.6h9.8M351.8 646.7v9.8M349.3 650.4h9.8M354.2 645.5v9.8M351.7 649.0h9.8M356.6 644.1v9.8M354.2 647.6h9.8M359.1 642.7v9.8M356.6 646.1h9.8M361.5 641.2v9.8M359.0 644.5h9.8M363.9 639.6v9.8M361.4 642.9h9.8M366.3 638.0v9.8M363.8 641.3h9.8M368.7 636.4v9.8M366.2 639.7h9.8M371.1 634.8v9.8M368.6 638.1h9.8M373.5 633.2v9.8M371.1 636.5h9.8M376.0 631.6v9.8M373.5 634.9h9.8M378.4 630.0v9.8M375.9 633.4h9.8M380.8 628.5v9.8M378.3 631.9h9.8M383.2 627.0v9.8M380.7 630.5h9.8M385.6 625.6v9.8M383.1 629.2h9.8M388.0 624.3v9.8M385.5 628.0h9.8M390.4 623.1v9.8M387.9 626.9h9.8M392.8 622.0v9.8M390.4 626.0h9.8M395.3 621.1v9.8M392.8 625.2h9.8M397.7 620.3v9.8M395.2 624.5h9.8M400.1 619.6v9.8M397.6 624.0h9.8M402.5 619.1v9.8M400.0 623.7h9.8M404.9 618.8v9.8M402.4 623.6h9.8M407.3 618.7v9.8M404.8 623.7h9.8M409.7 618.8v9.8M407.2 624.0h9.8M412.1 619.1v9.8M409.7 624.4h9.8M414.6 619.5v9.8M412.1 624.9h9.8M417.0 620.0v9.8M414.5 625.6h9.8M419.4 620.7v9.8M416.9 626.5h9.8M421.8 621.6v9.8M419.3 627.4h9.8M424.2 622.5v9.8M421.7 628.4h9.8M426.6 623.5v9.8M424.1 629.6h9.8M429.0 624.7v9.8M426.6 630.8h9.8M431.5 625.9v9.8M429.0 632.0h9.8M433.9 627.1v9.8M431.4 633.3h9.8M436.3 628.4v9.8M433.8 634.7h9.8M438.7 629.8v9.8M436.2 636.0h9.8M441.1 631.1v9.8M438.6 637.4h9.8M443.5 632.5v9.8M441.0 638.8h9.8M445.9 633.9v9.8M443.4 640.2h9.8M448.3 635.3v9.8M445.9 641.5h9.8M450.8 636.6v9.8M448.3 642.9h9.8M453.2 638.0v9.8M450.7 644.1h9.8M455.6 639.2v9.8M453.1 645.3h9.8M458.0 640.4v9.8M455.5 646.5h9.8M460.4 641.6v9.8M457.9 647.5h9.8M462.8 642.6v9.8M460.3 648.5h9.8M465.2 643.6v9.8M462.7 649.4h9.8M467.6 644.5v9.8M465.2 650.1h9.8M470.1 645.2v9.8M467.6 650.7h9.8M472.5 645.8v9.8M470.0 651.2h9.8M474.9 646.3v9.8M472.4 651.5h9.8M477.3 646.6v9.8M474.8 651.6h9.8M479.7 646.7v9.8M477.2 651.6h9.8M482.1 646.7v9.8M479.6 651.4h9.8M484.5 646.5v9.8M482.0 651.0h9.8M486.9 646.1v9.8M484.5 650.5h9.8M489.4 645.6v9.8M486.9 649.9h9.8M491.8 645.0v9.8M489.3 649.2h9.8M494.2 644.3v9.8M491.7 648.3h9.8M496.6 643.4v9.8M494.1 647.3h9.8M499.0 642.4v9.8M496.5 646.3h9.8M501.4 641.4v9.8M498.9 645.2h9.8M503.8 640.3v9.8M501.4 644.0h9.8M506.3 639.1v9.8M503.8 642.8h9.8M508.7 637.9v9.8M506.2 641.5h9.8M511.1 636.6v9.8M508.6 640.3h9.8M513.5 635.4v9.8M511.0 639.0h9.8M515.9 634.1v9.8M513.4 637.7h9.8M518.3 632.8v9.8M515.8 636.4h9.8M520.7 631.5v9.8M518.2 635.1h9.8M523.1 630.2v9.8M520.7 633.9h9.8M525.6 629.0v9.8M523.1 632.7h9.8M528.0 627.8v9.8M525.5 631.5h9.8M530.4 626.6v9.8M527.9 630.5h9.8M532.8 625.6v9.8M530.3 629.5h9.8M535.2 624.6v9.8M532.7 628.6h9.8M537.6 623.7v9.8M535.1 627.8h9.8M540.0 622.9v9.8M537.5 627.2h9.8M542.4 622.3v9.8M540.0 626.6h9.8M544.9 621.7v9.8M542.4 626.2h9.8M547.3 621.3v9.8M544.8 626.0h9.8M549.7 621.1v9.8M547.2 625.9h9.8M552.1 621.0v9.8M549.6 626.0h9.8M554.5 621.1v9.8M552.0 626.2h9.8M556.9 621.3v9.8M554.4 626.6h9.8M559.3 621.7v9.8M556.9 627.2h9.8M561.8 622.3v9.8M559.3 627.9h9.8M564.2 623.0v9.8M561.7 628.7h9.8M566.6 623.8v9.8M564.1 629.6h9.8M569.0 624.7v9.8M566.5 630.6h9.8M571.4 625.7v9.8M568.9 631.7h9.8M573.8 626.8v9.8M571.3 632.8h9.8M576.2 627.9v9.8M573.7 634.1h9.8M578.6 629.2v9.8M576.2 635.3h9.8M581.1 630.4v9.8M578.6 636.6h9.8M583.5 631.7v9.8M581.0 637.9h9.8M585.9 633.0v9.8M583.4 639.1h9.8M588.3 634.2v9.8M585.8 640.4h9.8M590.7 635.5v9.8M588.2 641.7h9.8M593.1 636.8v9.8M590.6 642.9h9.8M595.5 638.0v9.8M593.0 644.1h9.8M597.9 639.2v9.8M595.5 645.2h9.8M600.4 640.3v9.8M597.9 646.2h9.8M602.8 641.3v9.8M600.3 647.1h9.8M605.2 642.2v9.8M602.7 648.0h9.8M607.6 643.1v9.8M605.1 648.7h9.8M610.0 643.8v9.8M607.5 649.3h9.8M612.4 644.4v9.8M609.9 649.8h9.8M614.8 644.9v9.8M612.4 650.1h9.8M617.3 645.2v9.8M614.8 650.2h9.8M619.7 645.3v9.8M617.2 650.2h9.8M622.1 645.3v9.8M619.6 650.0h9.8M624.5 645.1v9.8M622.0 649.8h9.8M626.9 644.9v9.8M624.4 649.4h9.8M629.3 644.5v9.8M626.8 648.9h9.8M631.7 644.0v9.8M629.2 648.3h9.8M634.1 643.4v9.8M631.7 647.7h9.8M636.6 642.8v9.8M634.1 647.0h9.8M639.0 642.1v9.8M636.5 646.2h9.8M641.4 641.3v9.8M638.9 645.3h9.8M643.8 640.4v9.8M641.3 644.4h9.8M646.2 639.5v9.8M643.7 643.5h9.8M648.6 638.6v9.8M646.1 642.5h9.8M651.0 637.6v9.8M648.5 641.5h9.8M653.4 636.6v9.8M651.0 640.5h9.8M655.9 635.6v9.8M653.4 639.5h9.8M658.3 634.6v9.8M655.8 638.5h9.8M660.7 633.6v9.8M658.2 637.5h9.8M663.1 632.6v9.8M660.6 636.5h9.8M665.5 631.6v9.8M663.0 635.5h9.8M667.9 630.6v9.8M665.4 634.6h9.8M670.3 629.7v9.8M667.9 633.7h9.8M672.8 628.8v9.8M670.3 632.9h9.8M675.2 628.0v9.8M672.7 632.2h9.8M677.6 627.3v9.8M675.1 631.5h9.8M680.0 626.6v9.8M677.5 630.9h9.8M682.4 626.0v9.8M679.9 630.3h9.8M684.8 625.4v9.8M682.3 629.9h9.8M687.2 625.0v9.8M684.7 629.6h9.8M689.6 624.7v9.8M687.2 629.4h9.8M692.1 624.5v9.8M689.6 629.3h9.8M694.5 624.4v9.8M692.0 629.3h9.8M696.9 624.4v9.8M694.4 629.4h9.8M699.3 624.5v9.8M696.8 629.7h9.8M701.7 624.8v9.8M699.2 630.0h9.8M704.1 625.1v9.8M701.6 630.4h9.8M706.5 625.5v9.8M704.0 630.8h9.8M708.9 625.9v9.8M706.5 631.4h9.8M711.4 626.5v9.8M708.9 631.9h9.8M713.8 627.0v9.8M711.3 632.6h9.8M716.2 627.7v9.8M713.7 633.3h9.8M718.6 628.4v9.8M716.1 634.0h9.8M721.0 629.1v9.8M718.5 634.8h9.8M723.4 629.9v9.8M720.9 635.6h9.8M725.8 630.7v9.8M723.3 636.4h9.8M728.2 631.5v9.8M725.8 637.2h9.8M730.7 632.3v9.8M728.2 638.1h9.8M733.1 633.2v9.8M730.6 638.9h9.8M735.5 634.0v9.8M733.0 639.8h9.8M737.9 634.9v9.8M735.4 640.6h9.8M740.3 635.7v9.8M737.8 641.4h9.8M742.7 636.5v9.8M740.2 642.2h9.8M745.1 637.3v9.8M742.7 642.9h9.8M747.6 638.0v9.8M745.1 643.7h9.8M750.0 638.8v9.8M747.5 644.3h9.8M752.4 639.4v9.8M749.9 645.0h9.8M754.8 640.1v9.8M752.3 645.5h9.8M757.2 640.6v9.8M754.7 646.0h9.8M759.6 641.1v9.8M757.1 646.5h9.8M762.0 641.6v9.8M759.5 646.8h9.8M764.4 641.9v9.8M762.0 647.1h9.8M766.9 642.2v9.8M764.4 647.3h9.8M769.3 642.4v9.8M766.8 647.4h9.8M771.7 642.5v9.8M769.2 647.4h9.8M774.1 642.5v9.8M771.6 647.2h9.8M776.5 642.3v9.8M774.0 647.0h9.8M778.9 642.1v9.8M776.4 646.7h9.8M781.3 641.8v9.8M778.8 646.3h9.8M783.7 641.4v9.8M781.3 645.8h9.8M786.2 640.9v9.8M783.7 645.2h9.8M788.6 640.3v9.8M786.1 644.5h9.8M791.0 639.6v9.8M788.5 643.8h9.8M793.4 638.9v9.8" fill="none" stroke="#ff10ff" stroke-width="1.3"/>
<polyline clip-path="url(#c1)" points="69.5,638.0 71.9,631.7 74.3,626.7 76.7,621.2 79.2,616.0 81.6,611.2 84.0,607.2 86.4,604.5 88.8,602.9 91.2,602.8 93.6,604.2 96.0,606.5 98.5,608.9 100.9,611.5 103.3,614.6 105.7,618.2 108.1,622.3 110.5,626.6 112.9,631.0 115.3,635.3 117.8,639.1 120.2,642.6 122.6,645.9 125.0,649.1 127.4,652.1 129.8,655.0 132.2,657.9 134.7,660.7 137.1,662.8 139.5,664.9 141.9,667.6 144.3,661.9 146.7,655.3 149.1,648.8 151.5,638.9 154.0,627.8 156.4,619.5 158.8,613.1 161.2,608.2 163.6,604.6 166.0,602.4 168.4,601.3 170.8,602.0 173.3,605.3 175.7,609.6 178.1,613.7 180.5,617.2 182.9,620.7 185.3,624.3 187.7,627.9 190.2,631.5 192.6,635.2 195.0,639.0 197.4,642.8 199.8,646.4 202.2,649.7 204.6,653.0 207.0,656.1 209.5,659.1 211.9,662.1 214.3,664.6 216.7,667.4 219.1,663.7 221.5,657.9 223.9,653.4 226.3,649.9 228.8,647.3 231.2,645.3 233.6,643.9 236.0,642.9 238.4,642.3 240.8,642.1 243.2,642.1 245.6,642.3 248.1,642.6 250.5,643.0 252.9,643.3 255.3,643.6 257.7,643.7 260.1,643.7 262.5,643.6 265.0,643.4 267.4,643.2 269.8,642.9 272.2,642.5 274.6,642.1 277.0,641.7 279.4,641.2 281.8,640.7 284.3,640.2 286.7,639.6 289.1,639.0 291.5,638.4 293.9,637.8 296.3,637.2 298.7,636.6 301.1,636.0 303.6,635.4 306.0,634.8 308.4,634.2 310.8,633.7 313.2,633.2 315.6,632.7 318.0,632.3 320.5,631.9 322.9,631.5 325.3,631.2 327.7,631.0 330.1,630.8 332.5,630.7 334.9,630.7 337.3,630.7 339.8,630.8 342.2,631.0 344.6,631.2 347.0,631.5 349.4,631.8 351.8,632.2 354.2,632.6 356.6,633.0 359.1,633.5 361.5,634.0 363.9,634.5 366.3,635.0 368.7,635.5 371.1,636.1 373.5,636.6 376.0,637.1 378.4,637.7 380.8,638.2 383.2,638.7 385.6,639.1 388.0,639.6 390.4,640.0 392.8,640.3 395.3,640.7 397.7,640.9 400.1,641.1 402.5,641.3 404.9,641.4 407.3,641.4 409.7,641.4 412.1,641.3 414.6,641.2 417.0,641.0 419.4,640.8 421.8,640.6 424.2,640.3 426.6,640.0 429.0,639.7 431.5,639.3 433.9,638.9 436.3,638.6 438.7,638.2 441.1,637.8 443.5,637.3 445.9,636.9 448.3,636.5 450.8,636.1 453.2,635.7 455.6,635.4 458.0,635.0 460.4,634.7 462.8,634.4 465.2,634.1 467.6,633.8 470.1,633.6 472.5,633.5 474.9,633.3 477.3,633.3 479.7,633.2 482.1,633.3 484.5,633.3 486.9,633.5 489.4,633.6 491.8,633.8 494.2,634.0 496.6,634.3 499.0,634.6 501.4,634.9 503.8,635.2 506.3,635.6 508.7,635.9 511.1,636.3 513.5,636.7 515.9,637.1 518.3,637.4 520.7,637.8 523.1,638.2 525.6,638.6 528.0,638.9 530.4,639.2 532.8,639.5 535.2,639.8 537.6,640.1 540.0,640.3 542.4,640.5 544.9,640.7 547.3,640.8 549.7,640.9 552.1,640.9 554.5,640.8 556.9,640.7 559.3,640.6 561.8,640.3 564.2,640.1 566.6,639.7 569.0,639.4 571.4,639.0 573.8,638.5 576.2,638.1 578.6,637.6 581.1,637.2 583.5,636.7 585.9,636.2 588.3,635.7 590.7,635.3 593.1,634.9 595.5,634.5 597.9,634.1 600.4,633.8 602.8,633.5 605.2,633.3 607.6,633.1 610.0,633.0 612.4,633.0 614.8,633.0 617.3,633.0 619.7,633.2 622.1,633.3 624.5,633.5 626.9,633.7 629.3,633.9 631.7,634.2 634.1,634.5 636.6,634.8 639.0,635.1 641.4,635.4 643.8,635.8 646.2,636.1 648.6,636.4 651.0,636.7 653.4,637.1 655.9,637.4 658.3,637.6 660.7,637.9 663.1,638.1 665.5,638.4 667.9,638.5 670.3,638.7 672.8,638.8 675.2,638.9 677.6,638.9 680.0,638.9 682.4,638.9 684.8,638.8 687.2,638.8 689.6,638.7 692.1,638.6 694.5,638.5 696.9,638.4 699.3,638.3 701.7,638.1 704.1,638.0 706.5,637.8 708.9,637.7 711.4,637.5 713.8,637.3 716.2,637.2 718.6,637.0 721.0,636.8 723.4,636.6 725.8,636.5 728.2,636.3 730.7,636.1 733.1,635.9 735.5,635.8 737.9,635.6 740.3,635.4 742.7,635.3 745.1,635.1 747.6,635.0 750.0,634.9 752.4,634.8 754.8,634.7 757.2,634.6 759.6,634.5 762.0,634.4 764.4,634.4 766.9,634.4 769.3,634.4 771.7,634.4 774.1,634.4 776.5,634.4 778.9,634.5 781.3,634.5 783.7,634.6 786.2,634.6 788.6,634.6 791.0,634.6 793.4,634.7" fill="none" stroke="#000" stroke-width="2.6" stroke-dasharray="11 4.5"/>
<polyline clip-path="url(#c1)" points="69.5,638.0 71.9,630.5 74.3,626.0 76.7,622.9 79.2,620.8 81.6,619.5 84.0,618.8 86.4,618.5 88.8,618.6 91.2,619.4 93.6,620.7 96.0,622.5 98.5,624.4 100.9,626.5 103.3,628.3 105.7,630.0 108.1,631.6 110.5,633.3 112.9,635.0 115.3,636.7 117.8,638.4 120.2,640.1 122.6,641.9 125.0,643.5 127.4,645.2 129.8,646.8 132.2,648.4 134.7,649.9 137.1,651.2 139.5,652.1 141.9,652.9 144.3,653.7 146.7,654.8 149.1,648.6 151.5,638.8 154.0,627.7 156.4,619.5 158.8,613.1 161.2,608.2 163.6,604.6 166.0,602.4 168.4,601.3 170.8,602.0 173.3,605.3 175.7,609.6 178.1,613.7 180.5,617.2 182.9,620.7 185.3,624.3 187.7,627.9 190.2,631.5 192.6,635.2 195.0,639.0 197.4,642.8 199.8,646.4 202.2,649.7 204.6,653.0 207.0,656.1 209.5,659.1 211.9,662.1 214.3,664.6 216.7,667.4 219.1,664.3 221.5,658.4 223.9,652.7 226.3,647.5 228.8,642.8 231.2,638.8 233.6,635.5 236.0,633.2 238.4,631.8 240.8,631.6 243.2,631.9 245.6,632.7 248.1,633.9 250.5,635.3 252.9,637.1 255.3,639.0 257.7,641.0 260.1,643.1 262.5,645.2 265.0,647.3 267.4,649.3 269.8,651.2 272.2,652.8 274.6,654.2 277.0,655.3 279.4,655.9 281.8,656.2 284.3,656.0 286.7,655.7 289.1,655.0 291.5,654.2 293.9,653.3 296.3,652.1 298.7,650.9 301.1,649.5 303.6,648.1 306.0,646.6 308.4,645.1 310.8,643.6 313.2,642.1 315.6,640.7 318.0,639.4 320.5,638.1 322.9,637.0 325.3,636.0 327.7,635.2 330.1,634.6 332.5,634.2 334.9,634.1 337.3,634.1 339.8,634.2 342.2,634.4 344.6,634.6 347.0,634.8 349.4,635.1 351.8,635.4 354.2,635.8 356.6,636.2 359.1,636.6 361.5,637.0 363.9,637.5 366.3,637.9 368.7,638.4 371.1,638.9 373.5,639.4 376.0,639.9 378.4,640.3 380.8,640.8 383.2,641.2 385.6,641.6 388.0,642.0 390.4,642.4 392.8,642.7 395.3,643.0 397.7,643.2 400.1,643.4 402.5,643.6 404.9,643.7 407.3,643.7 409.7,643.7 412.1,643.6 414.6,643.5 417.0,643.3 419.4,643.1 421.8,642.8 424.2,642.5 426.6,642.2 429.0,641.8 431.5,641.4 433.9,641.0 436.3,640.6 438.7,640.2 441.1,639.8 443.5,639.3 445.9,638.9 448.3,638.5 450.8,638.0 453.2,637.6 455.6,637.2 458.0,636.8 460.4,636.5 462.8,636.1 465.2,635.8 467.6,635.6 470.1,635.4 472.5,635.2 474.9,635.0 477.3,635.0 479.7,634.9 482.1,635.0 484.5,635.0 486.9,635.2 489.4,635.3 491.8,635.6 494.2,635.8 496.6,636.1 499.0,636.4 501.4,636.8 503.8,637.1 506.3,637.5 508.7,637.9 511.1,638.3 513.5,638.8 515.9,639.2 518.3,639.6 520.7,640.0 523.1,640.4 525.6,640.8 528.0,641.2 530.4,641.6 532.8,641.9 535.2,642.3 537.6,642.5 540.0,642.8 542.4,643.0 544.9,643.2 547.3,643.3 549.7,643.4 552.1,643.4 554.5,643.4 556.9,643.3 559.3,643.1 561.8,642.9 564.2,642.6 566.6,642.3 569.0,641.9 571.4,641.5 573.8,641.1 576.2,640.6 578.6,640.2 581.1,639.7 583.5,639.2 585.9,638.8 588.3,638.3 590.7,637.8 593.1,637.4 595.5,637.0 597.9,636.7 600.4,636.3 602.8,636.0 605.2,635.8 607.6,635.6 610.0,635.5 612.4,635.5 614.8,635.5 617.3,635.6 619.7,635.7 622.1,635.9 624.5,636.0 626.9,636.2 629.3,636.5 631.7,636.7 634.1,637.0 636.6,637.3 639.0,637.6 641.4,637.9 643.8,638.2 646.2,638.5 648.6,638.8 651.0,639.1 653.4,639.4 655.9,639.6 658.3,639.9 660.7,640.1 663.1,640.2 665.5,640.4 667.9,640.5 670.3,640.6 672.8,640.6 675.2,640.6 677.6,640.6 680.0,640.5 682.4,640.5 684.8,640.5 687.2,640.4 689.6,640.3 692.1,640.3 694.5,640.2 696.9,640.1 699.3,640.0 701.7,639.9 704.1,639.8 706.5,639.7 708.9,639.6 711.4,639.5 713.8,639.4 716.2,639.3 718.6,639.2 721.0,639.0 723.4,638.9 725.8,638.8 728.2,638.7 730.7,638.6 733.1,638.5 735.5,638.4 737.9,638.3 740.3,638.2 742.7,638.1 745.1,638.0 747.6,637.9 750.0,637.8 752.4,637.7 754.8,637.7 757.2,637.6 759.6,637.6 762.0,637.5 764.4,637.5 766.9,637.5 769.3,637.5 771.7,637.5 774.1,637.5 776.5,637.5 778.9,637.6 781.3,637.6 783.7,637.7 786.2,637.7 788.6,637.7 791.0,637.8 793.4,637.8" fill="none" stroke="#1010d0" stroke-width="4.4" stroke-dasharray="1.5 4.5"/>
<rect x="69.5" y="468.4" width="723.8" height="339.7" fill="none" stroke="#1a1a1a" stroke-width="1.55"/>
<path d="M69.5 808.1v-7.4M69.5 468.4v7.4M190.2 808.1v-7.4M190.2 468.4v7.4M310.8 808.1v-7.4M310.8 468.4v7.4M431.5 808.1v-7.4M431.5 468.4v7.4M552.1 808.1v-7.4M552.1 468.4v7.4M672.8 808.1v-7.4M672.8 468.4v7.4M793.4 808.1v-7.4M793.4 468.4v7.4M69.5 468.4h7.4M793.3 468.4h-7.4M69.5 523.7h7.4M793.3 523.7h-7.4M69.5 580.8h7.4M793.3 580.8h-7.4M69.5 637.8h7.4M793.3 637.8h-7.4M69.5 694.5h7.4M793.3 694.5h-7.4M69.5 751.4h7.4M793.3 751.4h-7.4M69.5 808.1h7.4M793.3 808.1h-7.4" stroke="#1a1a1a" stroke-width="1.4"/>
<text transform="translate(69.1,833.9) scale(1,1.06)" font-size="24" text-anchor="middle" stroke="#000" stroke-width="0.45">0</text>
<text transform="translate(188.7,833.9) scale(1,1.06)" font-size="24" text-anchor="middle" stroke="#000" stroke-width="0.45">0.5</text>
<text transform="translate(310.4,833.9) scale(1,1.06)" font-size="24" text-anchor="middle" stroke="#000" stroke-width="0.45">1</text>
<text transform="translate(430.0,833.9) scale(1,1.06)" font-size="24" text-anchor="middle" stroke="#000" stroke-width="0.45">1.5</text>
<text transform="translate(551.7,833.9) scale(1,1.06)" font-size="24" text-anchor="middle" stroke="#000" stroke-width="0.45">2</text>
<text transform="translate(671.2,833.9) scale(1,1.06)" font-size="24" text-anchor="middle" stroke="#000" stroke-width="0.45">2.5</text>
<text transform="translate(793.0,833.9) scale(1,1.06)" font-size="24" text-anchor="middle" stroke="#000" stroke-width="0.45">3</text>
<text transform="translate(64.1,477.4) scale(1,1.06)" font-size="24" text-anchor="end" stroke="#000" stroke-width="0.45">60</text>
<text transform="translate(64.1,532.7) scale(1,1.06)" font-size="24" text-anchor="end" stroke="#000" stroke-width="0.45">40</text>
<text transform="translate(64.1,589.8) scale(1,1.06)" font-size="24" text-anchor="end" stroke="#000" stroke-width="0.45">20</text>
<text transform="translate(64.1,646.8) scale(1,1.06)" font-size="24" text-anchor="end" stroke="#000" stroke-width="0.45">0</text>
<text transform="translate(64.1,703.5) scale(1,1.06)" font-size="24" text-anchor="end" stroke="#000" stroke-width="0.45">-20</text>
<text transform="translate(64.1,760.4) scale(1,1.06)" font-size="24" text-anchor="end" stroke="#000" stroke-width="0.45">-40</text>
<text transform="translate(64.1,817.1) scale(1,1.06)" font-size="24" text-anchor="end" stroke="#000" stroke-width="0.45">-60</text>
<text transform="translate(331.5,449.5) scale(1,1.06)" font-size="24" stroke="#000" stroke-width="0.45">with input angle 60</text>
<text x="517.5" y="436.5" font-size="22" stroke="#000" stroke-width="0.45">o</text>
<text transform="translate(18.3,636.0) rotate(-90) scale(1.095,1.12)" font-size="24" text-anchor="middle" stroke="#000" stroke-width="0.45">Pendulum link (degree)</text>
<clipPath id="c2"><rect x="69.2" y="890.0" width="724.2" height="346.1"/></clipPath>
<g stroke="#dc8c36" stroke-width="1.4"><line x1="69.2" y1="1053.8" x2="793.4" y2="1053.8"/><line x1="69.2" y1="1071.7" x2="793.4" y2="1071.7"/></g>
<polyline clip-path="url(#c2)" points="69.2,1062.9 71.6,1053.4 74.0,1046.3 76.4,1035.8 78.9,1023.6 81.3,1011.9 83.7,1001.5 86.1,991.3 88.5,980.2 90.9,967.1 93.3,952.7 95.8,939.4 98.2,929.1 100.6,921.0 103.0,914.5 105.4,909.0 107.8,904.1 110.2,899.9 112.7,896.5 115.1,894.2 117.5,893.2 119.9,893.3 122.3,894.4 124.7,896.4 127.1,899.4 129.6,903.4 132.0,908.5 134.4,914.8 136.8,922.4 139.2,931.2 141.6,941.1 144.0,952.2 146.4,964.6 148.9,978.5 151.3,994.1 153.7,1012.2 156.1,1034.4 158.5,1053.9 160.9,1065.7 163.3,1075.4 165.8,1086.8 168.2,1097.9 170.6,1107.0 173.0,1114.2 175.4,1120.3 177.8,1125.7 180.2,1131.0 182.7,1136.4 185.1,1141.7 187.5,1146.6 189.9,1151.0 192.3,1154.7 194.7,1157.8 197.1,1160.3 199.6,1162.0 202.0,1162.8 204.4,1162.5 206.8,1161.1 209.2,1158.6 211.6,1155.3 214.0,1151.0 216.5,1146.0 218.9,1140.2 221.3,1133.8 223.7,1126.9 226.1,1119.4 228.5,1111.5 230.9,1103.2 233.4,1094.7 235.8,1085.9 238.2,1077.0 240.6,1068.1 243.0,1059.1 245.4,1050.2 247.8,1041.5 250.2,1033.0 252.7,1024.8 255.1,1017.0 257.5,1009.6 259.9,1002.7 262.3,996.5 264.7,990.9 267.1,986.0 269.6,981.9 272.0,978.7 274.4,976.5 276.8,975.3 279.2,975.2 281.6,976.3 284.0,978.7 286.5,982.0 288.9,986.4 291.3,991.5 293.7,997.3 296.1,1003.7 298.5,1010.6 300.9,1017.8 303.4,1025.2 305.8,1032.7 308.2,1040.2 310.6,1049.4 313.0,1060.0 315.4,1070.9 317.8,1080.9 320.3,1088.8 322.7,1095.5 325.1,1101.8 327.5,1107.8 329.9,1113.4 332.3,1118.6 334.7,1123.4 337.2,1127.7 339.6,1131.6 342.0,1134.9 344.4,1137.6 346.8,1139.8 349.2,1141.3 351.6,1142.2 354.1,1142.4 356.5,1141.8 358.9,1140.2 361.3,1137.9 363.7,1134.8 366.1,1131.0 368.5,1126.6 370.9,1121.6 373.4,1116.1 375.8,1110.1 378.2,1103.8 380.6,1097.1 383.0,1090.2 385.4,1083.1 387.8,1075.9 390.3,1068.6 392.7,1061.3 395.1,1054.0 397.5,1046.8 399.9,1039.9 402.3,1033.1 404.7,1026.7 407.2,1020.6 409.6,1015.0 412.0,1009.8 414.4,1005.2 416.8,1001.2 419.2,997.9 421.6,995.4 424.1,993.6 426.5,992.6 428.9,992.6 431.3,993.5 433.7,995.0 436.1,997.3 438.5,1000.3 441.0,1003.8 443.4,1007.9 445.8,1012.5 448.2,1017.5 450.6,1022.9 453.0,1028.6 455.4,1034.7 457.9,1040.9 460.3,1047.3 462.7,1053.8 465.1,1060.3 467.5,1066.9 469.9,1073.4 472.3,1079.7 474.8,1086.0 477.2,1092.0 479.6,1097.7 482.0,1103.1 484.4,1108.1 486.8,1112.7 489.2,1116.8 491.6,1120.3 494.1,1123.3 496.5,1125.6 498.9,1127.2 501.3,1128.0 503.7,1128.0 506.1,1127.3 508.5,1125.8 511.0,1123.8 513.4,1121.1 515.8,1117.9 518.2,1114.2 520.6,1110.1 523.0,1105.5 525.4,1100.6 527.9,1095.5 530.3,1090.1 532.7,1084.4 535.1,1078.7 537.5,1072.8 539.9,1066.9 542.3,1061.0 544.8,1055.2 547.2,1049.4 549.6,1043.8 552.0,1038.4 554.4,1033.3 556.8,1028.5 559.2,1024.0 561.7,1019.9 564.1,1016.2 566.5,1013.1 568.9,1010.5 571.3,1008.5 573.7,1007.1 576.1,1006.4 578.6,1006.5 581.0,1007.2 583.4,1008.6 585.8,1010.5 588.2,1012.9 590.6,1015.9 593.0,1019.3 595.5,1023.0 597.9,1027.1 600.3,1031.6 602.7,1036.3 605.1,1041.2 607.5,1046.2 609.9,1051.4 612.4,1056.7 614.8,1062.0 617.2,1067.3 619.6,1072.5 622.0,1077.6 624.4,1082.6 626.8,1087.4 629.2,1092.0 631.7,1096.3 634.1,1100.2 636.5,1103.8 638.9,1106.9 641.3,1109.7 643.7,1111.8 646.1,1113.5 648.6,1114.5 651.0,1114.9 653.4,1114.7 655.8,1113.9 658.2,1112.5 660.6,1110.6 663.0,1108.3 665.5,1105.5 667.9,1102.4 670.3,1098.9 672.7,1095.1 675.1,1091.1 677.5,1086.8 679.9,1082.4 682.4,1077.8 684.8,1073.2 687.2,1068.4 689.6,1063.7 692.0,1059.0 694.4,1054.3 696.8,1049.8 699.3,1045.4 701.7,1041.1 704.1,1037.1 706.5,1033.4 708.9,1030.0 711.3,1026.9 713.7,1024.3 716.2,1022.0 718.6,1020.2 721.0,1019.0 723.4,1018.3 725.8,1018.1 728.2,1018.6 730.6,1019.5 733.1,1020.8 735.5,1022.6 737.9,1024.8 740.3,1027.3 742.7,1030.1 745.1,1033.3 747.5,1036.6 749.9,1040.2 752.4,1044.0 754.8,1047.9 757.2,1051.9 759.6,1056.1 762.0,1060.2 764.4,1064.4 766.8,1068.6 769.3,1072.7 771.7,1076.7 774.1,1080.5 776.5,1084.3 778.9,1087.8 781.3,1091.1 783.7,1094.1 786.2,1096.9 788.6,1099.3 791.0,1101.4 793.4,1103.0" fill="none" stroke="#dc2828" stroke-width="1.2" stroke-linejoin="round"/>
<path d="M64.3 1062.9h9.8M69.2 1058.0v9.8M66.7 1051.9h9.8M71.6 1047.0v9.8M69.1 1043.4h9.8M74.0 1038.5v9.8M71.5 1036.4h9.8M76.4 1031.5v9.8M74.0 1029.9h9.8M78.9 1025.0v9.8M76.4 1023.1h9.8M81.3 1018.2v9.8M78.8 1014.9h9.8M83.7 1010.0v9.8M81.2 1006.3h9.8M86.1 1001.4v9.8M83.6 1000.0h9.8M88.5 995.1v9.8M86.0 996.2h9.8M90.9 991.3v9.8M88.4 993.7h9.8M93.3 988.8v9.8M90.9 992.2h9.8M95.8 987.3v9.8M93.3 991.6h9.8M98.2 986.7v9.8M95.7 991.7h9.8M100.6 986.8v9.8M98.1 994.6h9.8M103.0 989.7v9.8M100.5 999.9h9.8M105.4 995.0v9.8M102.9 1006.1h9.8M107.8 1001.2v9.8M105.3 1011.9h9.8M110.2 1007.0v9.8M107.8 1017.2h9.8M112.7 1012.3v9.8M110.2 1022.6h9.8M115.1 1017.7v9.8M112.6 1028.3h9.8M117.5 1023.4v9.8M115.0 1034.3h9.8M119.9 1029.4v9.8M117.4 1040.8h9.8M122.3 1035.9v9.8M119.8 1047.9h9.8M124.7 1043.0v9.8M122.2 1054.9h9.8M127.1 1050.0v9.8M124.7 1061.7h9.8M129.6 1056.8v9.8M127.1 1069.3h9.8M132.0 1064.4v9.8M129.5 1077.5h9.8M134.4 1072.6v9.8M131.9 1085.6h9.8M136.8 1080.7v9.8M134.3 1093.0h9.8M139.2 1088.1v9.8M136.7 1099.0h9.8M141.6 1094.1v9.8M139.1 1103.1h9.8M144.0 1098.2v9.8M141.5 1104.6h9.8M146.4 1099.7v9.8M144.0 1103.4h9.8M148.9 1098.5v9.8M146.4 1100.3h9.8M151.3 1095.4v9.8M148.8 1095.9h9.8M153.7 1091.0v9.8M151.2 1090.9h9.8M156.1 1086.0v9.8M153.6 1085.9h9.8M158.5 1081.0v9.8M156.0 1081.5h9.8M160.9 1076.6v9.8M158.4 1078.4h9.8M163.3 1073.5v9.8M160.9 1077.3h9.8M165.8 1072.4v9.8M163.3 1077.7h9.8M168.2 1072.8v9.8M165.7 1079.1h9.8M170.6 1074.2v9.8M168.1 1081.1h9.8M173.0 1076.2v9.8M170.5 1083.7h9.8M175.4 1078.8v9.8M172.9 1086.6h9.8M177.8 1081.7v9.8M175.3 1089.8h9.8M180.2 1084.9v9.8M177.8 1093.0h9.8M182.7 1088.1v9.8M180.2 1096.1h9.8M185.1 1091.2v9.8M182.6 1099.0h9.8M187.5 1094.1v9.8M185.0 1101.4h9.8M189.9 1096.5v9.8M187.4 1103.2h9.8M192.3 1098.3v9.8M189.8 1104.3h9.8M194.7 1099.4v9.8M192.2 1104.5h9.8M197.1 1099.6v9.8M194.7 1104.2h9.8M199.6 1099.3v9.8M197.1 1103.4h9.8M202.0 1098.5v9.8M199.5 1102.2h9.8M204.4 1097.3v9.8M201.9 1100.6h9.8M206.8 1095.7v9.8M204.3 1098.7h9.8M209.2 1093.8v9.8M206.7 1096.5h9.8M211.6 1091.6v9.8M209.1 1094.0h9.8M214.0 1089.1v9.8M211.6 1091.2h9.8M216.5 1086.3v9.8M214.0 1088.2h9.8M218.9 1083.3v9.8M216.4 1085.1h9.8M221.3 1080.2v9.8M218.8 1081.7h9.8M223.7 1076.8v9.8M221.2 1078.3h9.8M226.1 1073.4v9.8M223.6 1074.7h9.8M228.5 1069.8v9.8M226.0 1071.1h9.8M230.9 1066.2v9.8M228.5 1067.4h9.8M233.4 1062.5v9.8M230.9 1063.7h9.8M235.8 1058.8v9.8M233.3 1060.0h9.8M238.2 1055.1v9.8M235.7 1056.4h9.8M240.6 1051.5v9.8M238.1 1052.9h9.8M243.0 1048.0v9.8M240.5 1049.5h9.8M245.4 1044.6v9.8M242.9 1046.2h9.8M247.8 1041.3v9.8M245.3 1043.1h9.8M250.2 1038.2v9.8M247.8 1040.1h9.8M252.7 1035.2v9.8M250.2 1037.5h9.8M255.1 1032.6v9.8M252.6 1035.0h9.8M257.5 1030.1v9.8M255.0 1032.9h9.8M259.9 1028.0v9.8M257.4 1031.1h9.8M262.3 1026.2v9.8M259.8 1029.6h9.8M264.7 1024.7v9.8M262.2 1028.5h9.8M267.1 1023.6v9.8M264.7 1027.9h9.8M269.6 1023.0v9.8M267.1 1027.6h9.8M272.0 1022.7v9.8M269.5 1027.8h9.8M274.4 1022.9v9.8M271.9 1028.5h9.8M276.8 1023.6v9.8M274.3 1029.5h9.8M279.2 1024.6v9.8M276.7 1030.9h9.8M281.6 1026.0v9.8M279.1 1032.6h9.8M284.0 1027.7v9.8M281.6 1034.6h9.8M286.5 1029.7v9.8M284.0 1036.9h9.8M288.9 1032.0v9.8M286.4 1039.4h9.8M291.3 1034.5v9.8M288.8 1042.2h9.8M293.7 1037.3v9.8M291.2 1045.1h9.8M296.1 1040.2v9.8M293.6 1048.1h9.8M298.5 1043.2v9.8M296.0 1051.3h9.8M300.9 1046.4v9.8M298.5 1054.6h9.8M303.4 1049.7v9.8M300.9 1058.0h9.8M305.8 1053.1v9.8M303.3 1061.4h9.8M308.2 1056.5v9.8M305.7 1064.7h9.8M310.6 1059.8v9.8M308.1 1068.1h9.8M313.0 1063.2v9.8M310.5 1071.4h9.8M315.4 1066.5v9.8M312.9 1074.7h9.8M317.8 1069.8v9.8M315.4 1077.8h9.8M320.3 1072.9v9.8M317.8 1080.8h9.8M322.7 1075.9v9.8M320.2 1083.6h9.8M325.1 1078.7v9.8M322.6 1086.2h9.8M327.5 1081.3v9.8M325.0 1088.6h9.8M329.9 1083.7v9.8M327.4 1090.7h9.8M332.3 1085.8v9.8M329.8 1092.5h9.8M334.7 1087.6v9.8M332.3 1094.1h9.8M337.2 1089.2v9.8M334.7 1095.2h9.8M339.6 1090.3v9.8M337.1 1096.0h9.8M342.0 1091.1v9.8M339.5 1096.4h9.8M344.4 1091.5v9.8M341.9 1096.4h9.8M346.8 1091.5v9.8M344.3 1096.0h9.8M349.2 1091.1v9.8M346.7 1095.2h9.8M351.6 1090.3v9.8M349.2 1094.1h9.8M354.1 1089.2v9.8M351.6 1092.7h9.8M356.5 1087.8v9.8M354.0 1091.0h9.8M358.9 1086.1v9.8M356.4 1089.1h9.8M361.3 1084.2v9.8M358.8 1086.9h9.8M363.7 1082.0v9.8M361.2 1084.6h9.8M366.1 1079.7v9.8M363.6 1082.1h9.8M368.5 1077.2v9.8M366.1 1079.4h9.8M370.9 1074.5v9.8M368.5 1076.6h9.8M373.4 1071.7v9.8M370.9 1073.7h9.8M375.8 1068.8v9.8M373.3 1070.8h9.8M378.2 1065.9v9.8M375.7 1067.8h9.8M380.6 1062.9v9.8M378.1 1064.7h9.8M383.0 1059.8v9.8M380.5 1061.7h9.8M385.4 1056.8v9.8M382.9 1058.7h9.8M387.8 1053.8v9.8M385.4 1055.8h9.8M390.3 1050.9v9.8M387.8 1053.0h9.8M392.7 1048.1v9.8M390.2 1050.2h9.8M395.1 1045.3v9.8M392.6 1047.6h9.8M397.5 1042.7v9.8M395.0 1045.2h9.8M399.9 1040.3v9.8M397.4 1042.9h9.8M402.3 1038.0v9.8M399.8 1040.9h9.8M404.7 1036.0v9.8M402.3 1039.1h9.8M407.2 1034.2v9.8M404.7 1037.6h9.8M409.6 1032.7v9.8M407.1 1036.3h9.8M412.0 1031.4v9.8M409.5 1035.4h9.8M414.4 1030.5v9.8M411.9 1034.8h9.8M416.8 1029.9v9.8M414.3 1034.5h9.8M419.2 1029.6v9.8M416.7 1034.7h9.8M421.6 1029.8v9.8M419.2 1035.2h9.8M424.1 1030.3v9.8M421.6 1036.0h9.8M426.5 1031.1v9.8M424.0 1037.1h9.8M428.9 1032.2v9.8M426.4 1038.5h9.8M431.3 1033.6v9.8M428.8 1040.2h9.8M433.7 1035.3v9.8M431.2 1042.0h9.8M436.1 1037.1v9.8M433.6 1044.1h9.8M438.5 1039.2v9.8M436.1 1046.3h9.8M441.0 1041.4v9.8M438.5 1048.7h9.8M443.4 1043.8v9.8M440.9 1051.2h9.8M445.8 1046.3v9.8M443.3 1053.8h9.8M448.2 1048.9v9.8M445.7 1056.5h9.8M450.6 1051.6v9.8M448.1 1059.3h9.8M453.0 1054.4v9.8M450.5 1062.0h9.8M455.4 1057.1v9.8M453.0 1064.8h9.8M457.9 1059.9v9.8M455.4 1067.5h9.8M460.3 1062.6v9.8M457.8 1070.2h9.8M462.7 1065.3v9.8M460.2 1072.8h9.8M465.1 1067.9v9.8M462.6 1075.4h9.8M467.5 1070.5v9.8M465.0 1077.7h9.8M469.9 1072.8v9.8M467.4 1080.0h9.8M472.3 1075.1v9.8M469.9 1082.0h9.8M474.8 1077.1v9.8M472.3 1083.9h9.8M477.2 1079.0v9.8M474.7 1085.6h9.8M479.6 1080.7v9.8M477.1 1086.9h9.8M482.0 1082.0v9.8M479.5 1088.1h9.8M484.4 1083.2v9.8M481.9 1088.9h9.8M486.8 1084.0v9.8M484.3 1089.4h9.8M489.2 1084.5v9.8M486.8 1089.5h9.8M491.6 1084.6v9.8M489.2 1089.3h9.8M494.1 1084.4v9.8M491.6 1088.9h9.8M496.5 1084.0v9.8M494.0 1088.1h9.8M498.9 1083.2v9.8M496.4 1087.1h9.8M501.3 1082.2v9.8M498.8 1085.8h9.8M503.7 1080.9v9.8M501.2 1084.4h9.8M506.1 1079.5v9.8M503.6 1082.7h9.8M508.5 1077.8v9.8M506.1 1080.9h9.8M511.0 1076.0v9.8M508.5 1078.9h9.8M513.4 1074.0v9.8M510.9 1076.8h9.8M515.8 1071.9v9.8M513.3 1074.6h9.8M518.2 1069.7v9.8M515.7 1072.3h9.8M520.6 1067.4v9.8M518.1 1069.9h9.8M523.0 1065.0v9.8M520.5 1067.5h9.8M525.4 1062.6v9.8M523.0 1065.0h9.8M527.9 1060.1v9.8M525.4 1062.6h9.8M530.3 1057.7v9.8M527.8 1060.2h9.8M532.7 1055.3v9.8M530.2 1057.8h9.8M535.1 1052.9v9.8M532.6 1055.5h9.8M537.5 1050.6v9.8M535.0 1053.3h9.8M539.9 1048.4v9.8M537.4 1051.1h9.8M542.3 1046.2v9.8M539.9 1049.1h9.8M544.8 1044.2v9.8M542.3 1047.3h9.8M547.2 1042.4v9.8M544.7 1045.6h9.8M549.6 1040.7v9.8M547.1 1044.1h9.8M552.0 1039.2v9.8M549.5 1042.8h9.8M554.4 1037.9v9.8M551.9 1041.7h9.8M556.8 1036.8v9.8M554.3 1040.9h9.8M559.2 1036.0v9.8M556.8 1040.3h9.8M561.7 1035.4v9.8M559.2 1040.1h9.8M564.1 1035.2v9.8M561.6 1040.1h9.8M566.5 1035.2v9.8M564.0 1040.5h9.8M568.9 1035.6v9.8M566.4 1041.0h9.8M571.3 1036.1v9.8M568.8 1041.8h9.8M573.7 1036.9v9.8M571.2 1042.9h9.8M576.1 1038.0v9.8M573.7 1044.1h9.8M578.6 1039.2v9.8M576.1 1045.4h9.8M581.0 1040.5v9.8M578.5 1047.0h9.8M583.4 1042.1v9.8M580.9 1048.7h9.8M585.8 1043.8v9.8M583.3 1050.5h9.8M588.2 1045.6v9.8M585.7 1052.4h9.8M590.6 1047.5v9.8M588.1 1054.4h9.8M593.0 1049.5v9.8M590.6 1056.5h9.8M595.5 1051.6v9.8M593.0 1058.6h9.8M597.9 1053.7v9.8M595.4 1060.8h9.8M600.3 1055.9v9.8M597.8 1062.9h9.8M602.7 1058.0v9.8M600.2 1065.1h9.8M605.1 1060.2v9.8M602.6 1067.3h9.8M607.5 1062.4v9.8M605.0 1069.4h9.8M609.9 1064.5v9.8M607.5 1071.5h9.8M612.4 1066.6v9.8M609.9 1073.4h9.8M614.8 1068.5v9.8M612.3 1075.3h9.8M617.2 1070.4v9.8M614.7 1077.1h9.8M619.6 1072.2v9.8M617.1 1078.8h9.8M622.0 1073.9v9.8M619.5 1080.3h9.8M624.4 1075.4v9.8M621.9 1081.7h9.8M626.8 1076.8v9.8M624.3 1082.8h9.8M629.2 1077.9v9.8M626.8 1083.8h9.8M631.7 1078.9v9.8M629.2 1084.6h9.8M634.1 1079.7v9.8M631.6 1085.1h9.8M636.5 1080.2v9.8M634.0 1085.3h9.8M638.9 1080.4v9.8M636.4 1085.3h9.8M641.3 1080.4v9.8M638.8 1085.1h9.8M643.7 1080.2v9.8M641.2 1084.5h9.8M646.1 1079.6v9.8M643.7 1083.7h9.8M648.6 1078.8v9.8M646.1 1082.7h9.8M651.0 1077.8v9.8M648.5 1081.4h9.8M653.4 1076.5v9.8M650.9 1080.0h9.8M655.8 1075.1v9.8M653.3 1078.4h9.8M658.2 1073.5v9.8M655.7 1076.7h9.8M660.6 1071.8v9.8M658.1 1074.9h9.8M663.0 1070.0v9.8M660.6 1072.9h9.8M665.5 1068.0v9.8M663.0 1070.9h9.8M667.9 1066.0v9.8M665.4 1068.8h9.8M670.3 1063.9v9.8M667.8 1066.6h9.8M672.7 1061.7v9.8M670.2 1064.4h9.8M675.1 1059.5v9.8M672.6 1062.3h9.8M677.5 1057.4v9.8M675.0 1060.1h9.8M679.9 1055.2v9.8M677.5 1058.0h9.8M682.4 1053.1v9.8M679.9 1055.9h9.8M684.8 1051.0v9.8M682.3 1053.9h9.8M687.2 1049.0v9.8M684.7 1052.0h9.8M689.6 1047.1v9.8M687.1 1050.3h9.8M692.0 1045.4v9.8M689.5 1048.7h9.8M694.4 1043.8v9.8M691.9 1047.2h9.8M696.8 1042.3v9.8M694.4 1045.9h9.8M699.3 1041.0v9.8M696.8 1044.8h9.8M701.7 1039.9v9.8M699.2 1043.9h9.8M704.1 1039.0v9.8M701.6 1043.3h9.8M706.5 1038.4v9.8M704.0 1042.9h9.8M708.9 1038.0v9.8M706.4 1042.8h9.8M711.3 1037.9v9.8M708.8 1043.0h9.8M713.7 1038.1v9.8M711.3 1043.3h9.8M716.2 1038.4v9.8M713.7 1043.9h9.8M718.6 1039.0v9.8M716.1 1044.6h9.8M721.0 1039.7v9.8M718.5 1045.5h9.8M723.4 1040.6v9.8M720.9 1046.5h9.8M725.8 1041.6v9.8M723.3 1047.6h9.8M728.2 1042.7v9.8M725.7 1048.9h9.8M730.6 1044.0v9.8M728.2 1050.3h9.8M733.1 1045.4v9.8M730.6 1051.8h9.8M735.5 1046.9v9.8M733.0 1053.3h9.8M737.9 1048.4v9.8M735.4 1054.9h9.8M740.3 1050.0v9.8M737.8 1056.6h9.8M742.7 1051.7v9.8M740.2 1058.3h9.8M745.1 1053.4v9.8M742.6 1060.0h9.8M747.5 1055.1v9.8M745.0 1061.8h9.8M749.9 1056.9v9.8M747.5 1063.5h9.8M752.4 1058.6v9.8M749.9 1065.3h9.8M754.8 1060.4v9.8M752.3 1067.0h9.8M757.2 1062.1v9.8M754.7 1068.6h9.8M759.6 1063.7v9.8M757.1 1070.2h9.8M762.0 1065.3v9.8M759.5 1071.8h9.8M764.4 1066.9v9.8M761.9 1073.2h9.8M766.8 1068.3v9.8M764.4 1074.6h9.8M769.3 1069.7v9.8M766.8 1075.8h9.8M771.7 1070.9v9.8M769.2 1076.9h9.8M774.1 1072.0v9.8M771.6 1077.9h9.8M776.5 1073.0v9.8M774.0 1078.8h9.8M778.9 1073.9v9.8M776.4 1079.4h9.8M781.3 1074.5v9.8M778.8 1079.9h9.8M783.7 1075.0v9.8M781.3 1080.3h9.8M786.2 1075.4v9.8M783.7 1080.4h9.8M788.6 1075.5v9.8M786.1 1080.4h9.8M791.0 1075.5v9.8M788.5 1080.4h9.8M793.4 1075.5v9.8" fill="none" stroke="#ff10ff" stroke-width="1.3"/>
<polyline clip-path="url(#c2)" points="69.2,1062.9 71.6,1056.5 74.0,1051.9 76.4,1047.8 78.9,1043.0 81.3,1037.9 83.7,1033.7 86.1,1030.8 88.5,1028.9 90.9,1028.1 93.3,1028.9 95.8,1030.7 98.2,1032.9 100.6,1035.2 103.0,1037.7 105.4,1040.6 107.8,1044.4 110.2,1048.7 112.7,1052.7 115.1,1056.6 117.5,1060.1 119.9,1063.3 122.3,1066.8 124.7,1070.7 127.1,1074.4 129.6,1077.8 132.0,1080.9 134.4,1083.6 136.8,1085.9 139.2,1088.0 141.6,1089.6 144.0,1091.7 146.4,1086.7 148.9,1082.5 151.3,1074.9 153.7,1065.3 156.1,1056.5 158.5,1048.7 160.9,1041.4 163.3,1035.4 165.8,1031.9 168.2,1030.8 170.6,1031.1 173.0,1032.5 175.4,1034.8 177.8,1037.6 180.2,1040.4 182.7,1043.4 185.1,1046.9 187.5,1050.6 189.9,1054.1 192.3,1057.4 194.7,1060.7 197.1,1063.9 199.6,1067.2 202.0,1070.6 204.4,1074.0 206.8,1077.4 209.2,1080.9 211.6,1084.1 214.0,1087.3 216.5,1089.5 218.9,1086.0 221.3,1082.9 223.7,1080.2 226.1,1077.8 228.5,1075.7 230.9,1074.0 233.4,1072.5 235.8,1071.3 238.2,1070.5 240.6,1070.2 243.0,1070.1 245.4,1070.3 247.8,1070.7 250.2,1071.1 252.7,1071.5 255.1,1071.8 257.5,1071.9 259.9,1071.8 262.3,1071.7 264.7,1071.4 267.1,1071.0 269.6,1070.6 272.0,1070.1 274.4,1069.5 276.8,1068.9 279.2,1068.2 281.6,1067.5 284.0,1066.7 286.5,1065.9 288.9,1065.1 291.3,1064.3 293.7,1063.5 296.1,1062.7 298.5,1061.9 300.9,1061.1 303.4,1060.4 305.8,1059.7 308.2,1059.1 310.6,1058.5 313.0,1058.0 315.4,1057.5 317.8,1057.2 320.3,1056.9 322.7,1056.7 325.1,1056.7 327.5,1056.7 329.9,1056.8 332.3,1056.9 334.7,1057.1 337.2,1057.4 339.6,1057.7 342.0,1058.0 344.4,1058.4 346.8,1058.8 349.2,1059.2 351.6,1059.7 354.1,1060.2 356.5,1060.7 358.9,1061.2 361.3,1061.7 363.7,1062.3 366.1,1062.8 368.5,1063.4 370.9,1063.9 373.4,1064.4 375.8,1064.9 378.2,1065.4 380.6,1065.9 383.0,1066.4 385.4,1066.8 387.8,1067.2 390.3,1067.6 392.7,1067.9 395.1,1068.2 397.5,1068.5 399.9,1068.7 402.3,1068.8 404.7,1068.9 407.2,1069.0 409.6,1068.9 412.0,1068.8 414.4,1068.6 416.8,1068.4 419.2,1068.1 421.6,1067.8 424.1,1067.4 426.5,1067.0 428.9,1066.6 431.3,1066.1 433.7,1065.6 436.1,1065.1 438.5,1064.6 441.0,1064.0 443.4,1063.5 445.8,1063.0 448.2,1062.4 450.6,1061.9 453.0,1061.4 455.4,1060.9 457.9,1060.4 460.3,1060.0 462.7,1059.6 465.1,1059.2 467.5,1058.9 469.9,1058.6 472.3,1058.4 474.8,1058.2 477.2,1058.1 479.6,1058.1 482.0,1058.1 484.4,1058.2 486.8,1058.3 489.2,1058.6 491.6,1058.8 494.1,1059.1 496.5,1059.5 498.9,1059.9 501.3,1060.3 503.7,1060.7 506.1,1061.2 508.5,1061.7 511.0,1062.2 513.4,1062.7 515.8,1063.2 518.2,1063.8 520.6,1064.3 523.0,1064.8 525.4,1065.3 527.9,1065.7 530.3,1066.2 532.7,1066.6 535.1,1067.0 537.5,1067.4 539.9,1067.7 542.3,1067.9 544.8,1068.1 547.2,1068.3 549.6,1068.4 552.0,1068.4 554.4,1068.4 556.8,1068.3 559.2,1068.2 561.7,1068.0 564.1,1067.7 566.5,1067.4 568.9,1067.1 571.3,1066.8 573.7,1066.4 576.1,1066.0 578.6,1065.5 581.0,1065.1 583.4,1064.6 585.8,1064.2 588.2,1063.7 590.6,1063.2 593.0,1062.7 595.5,1062.3 597.9,1061.8 600.3,1061.4 602.7,1061.0 605.1,1060.6 607.5,1060.2 609.9,1059.9 612.4,1059.6 614.8,1059.4 617.2,1059.2 619.6,1059.0 622.0,1059.0 624.4,1058.9 626.8,1059.0 629.2,1059.1 631.7,1059.3 634.1,1059.5 636.5,1059.8 638.9,1060.1 641.3,1060.5 643.7,1060.9 646.1,1061.4 648.6,1061.8 651.0,1062.3 653.4,1062.8 655.8,1063.3 658.2,1063.8 660.6,1064.3 663.0,1064.8 665.5,1065.2 667.9,1065.6 670.3,1066.0 672.7,1066.4 675.1,1066.7 677.5,1066.9 679.9,1067.1 682.4,1067.2 684.8,1067.2 687.2,1067.2 689.6,1067.2 692.0,1067.1 694.4,1067.0 696.8,1066.8 699.3,1066.6 701.7,1066.4 704.1,1066.2 706.5,1066.0 708.9,1065.7 711.3,1065.5 713.7,1065.2 716.2,1064.9 718.6,1064.6 721.0,1064.3 723.4,1064.0 725.8,1063.7 728.2,1063.3 730.6,1063.0 733.1,1062.7 735.5,1062.4 737.9,1062.1 740.3,1061.8 742.7,1061.5 745.1,1061.3 747.5,1061.0 749.9,1060.8 752.4,1060.6 754.8,1060.4 757.2,1060.2 759.6,1060.1 762.0,1059.9 764.4,1059.9 766.8,1059.8 769.3,1059.8 771.7,1059.8 774.1,1059.8 776.5,1059.8 778.9,1059.8 781.3,1059.9 783.7,1059.9 786.2,1059.9 788.6,1059.9 791.0,1060.0 793.4,1060.0" fill="none" stroke="#000" stroke-width="2.6" stroke-dasharray="11 4.5"/>
<polyline clip-path="url(#c2)" points="69.2,1062.9 71.6,1058.5 74.0,1054.9 76.4,1051.8 78.9,1049.3 81.3,1047.1 83.7,1045.3 86.1,1044.2 88.5,1043.7 90.9,1044.0 93.3,1045.2 95.8,1046.7 98.2,1048.2 100.6,1049.8 103.0,1051.6 105.4,1053.4 107.8,1055.2 110.2,1057.2 112.7,1059.2 115.1,1061.3 117.5,1063.6 119.9,1065.8 122.3,1068.0 124.7,1070.0 127.1,1071.8 129.6,1073.4 132.0,1074.9 134.4,1076.3 136.8,1077.5 139.2,1078.3 141.6,1078.5 144.0,1078.4 146.4,1077.1 148.9,1073.0 151.3,1068.1 153.7,1059.6 156.1,1049.9 158.5,1040.1 160.9,1035.2 163.3,1032.5 165.8,1030.6 168.2,1030.0 170.6,1030.7 173.0,1032.4 175.4,1034.8 177.8,1037.5 180.2,1040.4 182.7,1043.4 185.1,1046.9 187.5,1050.6 189.9,1054.1 192.3,1057.4 194.7,1060.7 197.1,1063.9 199.6,1067.2 202.0,1070.6 204.4,1074.0 206.8,1077.4 209.2,1080.9 211.6,1084.1 214.0,1087.3 216.5,1088.6 218.9,1082.0 221.3,1075.8 223.7,1070.2 226.1,1065.4 228.5,1061.4 230.9,1058.5 233.4,1056.9 235.8,1056.7 238.2,1057.0 240.6,1057.7 243.0,1058.6 245.4,1059.8 247.8,1061.2 250.2,1062.8 252.7,1064.5 255.1,1066.4 257.5,1068.3 259.9,1070.2 262.3,1072.1 264.7,1074.0 267.1,1075.8 269.6,1077.5 272.0,1079.0 274.4,1080.4 276.8,1081.5 279.2,1082.4 281.6,1082.9 284.0,1083.1 286.5,1083.0 288.9,1082.4 291.3,1081.6 293.7,1080.4 296.1,1079.0 298.5,1077.4 300.9,1075.7 303.4,1073.8 305.8,1071.9 308.2,1070.0 310.6,1068.1 313.0,1066.2 315.4,1064.4 317.8,1062.8 320.3,1061.4 322.7,1060.2 325.1,1059.3 327.5,1058.8 329.9,1058.6 332.3,1058.6 334.7,1058.7 337.2,1058.9 339.6,1059.1 342.0,1059.4 344.4,1059.7 346.8,1060.1 349.2,1060.5 351.6,1060.9 354.1,1061.4 356.5,1061.9 358.9,1062.4 361.3,1062.9 363.7,1063.5 366.1,1064.1 368.5,1064.6 370.9,1065.2 373.4,1065.8 375.8,1066.3 378.2,1066.9 380.6,1067.4 383.0,1067.9 385.4,1068.3 387.8,1068.8 390.3,1069.2 392.7,1069.6 395.1,1069.9 397.5,1070.2 399.9,1070.4 402.3,1070.5 404.7,1070.6 407.2,1070.7 409.6,1070.6 412.0,1070.5 414.4,1070.4 416.8,1070.1 419.2,1069.8 421.6,1069.5 424.1,1069.1 426.5,1068.7 428.9,1068.3 431.3,1067.8 433.7,1067.3 436.1,1066.7 438.5,1066.2 441.0,1065.6 443.4,1065.1 445.8,1064.5 448.2,1063.9 450.6,1063.4 453.0,1062.9 455.4,1062.4 457.9,1061.9 460.3,1061.4 462.7,1061.0 465.1,1060.6 467.5,1060.3 469.9,1060.0 472.3,1059.8 474.8,1059.6 477.2,1059.5 479.6,1059.4 482.0,1059.5 484.4,1059.6 486.8,1059.7 489.2,1059.9 491.6,1060.2 494.1,1060.5 496.5,1060.9 498.9,1061.3 501.3,1061.7 503.7,1062.1 506.1,1062.6 508.5,1063.1 511.0,1063.6 513.4,1064.1 515.8,1064.6 518.2,1065.1 520.6,1065.7 523.0,1066.2 525.4,1066.7 527.9,1067.1 530.3,1067.6 532.7,1068.0 535.1,1068.4 537.5,1068.7 539.9,1069.0 542.3,1069.3 544.8,1069.5 547.2,1069.7 549.6,1069.8 552.0,1069.8 554.4,1069.8 556.8,1069.7 559.2,1069.5 561.7,1069.4 564.1,1069.1 566.5,1068.8 568.9,1068.5 571.3,1068.1 573.7,1067.8 576.1,1067.4 578.6,1066.9 581.0,1066.5 583.4,1066.0 585.8,1065.5 588.2,1065.1 590.6,1064.6 593.0,1064.1 595.5,1063.7 597.9,1063.2 600.3,1062.8 602.7,1062.4 605.1,1062.0 607.5,1061.6 609.9,1061.3 612.4,1061.0 614.8,1060.8 617.2,1060.6 619.6,1060.4 622.0,1060.3 624.4,1060.3 626.8,1060.3 629.2,1060.4 631.7,1060.5 634.1,1060.7 636.5,1060.9 638.9,1061.1 641.3,1061.4 643.7,1061.7 646.1,1062.0 648.6,1062.3 651.0,1062.7 653.4,1063.0 655.8,1063.4 658.2,1063.8 660.6,1064.2 663.0,1064.6 665.5,1065.0 667.9,1065.3 670.3,1065.7 672.7,1066.1 675.1,1066.4 677.5,1066.7 679.9,1067.0 682.4,1067.3 684.8,1067.5 687.2,1067.7 689.6,1067.9 692.0,1068.0 694.4,1068.1 696.8,1068.1 699.3,1068.1 701.7,1068.0 704.1,1067.9 706.5,1067.7 708.9,1067.5 711.3,1067.3 713.7,1067.1 716.2,1066.8 718.6,1066.5 721.0,1066.2 723.4,1065.9 725.8,1065.5 728.2,1065.2 730.6,1064.8 733.1,1064.5 735.5,1064.1 737.9,1063.7 740.3,1063.4 742.7,1063.0 745.1,1062.7 747.5,1062.4 749.9,1062.1 752.4,1061.8 754.8,1061.6 757.2,1061.4 759.6,1061.2 762.0,1061.0 764.4,1060.9 766.8,1060.8 769.3,1060.8 771.7,1060.8 774.1,1060.8 776.5,1060.9 778.9,1060.9 781.3,1060.9 783.7,1060.9 786.2,1061.0 788.6,1061.0 791.0,1061.0 793.4,1061.0" fill="none" stroke="#1010d0" stroke-width="4.4" stroke-dasharray="1.5 4.5"/>
<rect x="69.2" y="890.0" width="724.2" height="346.1" fill="none" stroke="#1a1a1a" stroke-width="1.55"/>
<path d="M69.2 1236.1v-7.4M69.2 890.0v7.4M189.9 1236.1v-7.4M189.9 890.0v7.4M310.6 1236.1v-7.4M310.6 890.0v7.4M431.3 1236.1v-7.4M431.3 890.0v7.4M552.0 1236.1v-7.4M552.0 890.0v7.4M672.7 1236.1v-7.4M672.7 890.0v7.4M793.4 1236.1v-7.4M793.4 890.0v7.4M69.2 890.0h7.4M793.4 890.0h-7.4M69.2 975.9h7.4M793.4 975.9h-7.4M69.2 1062.0h7.4M793.4 1062.0h-7.4M69.2 1148.0h7.4M793.4 1148.0h-7.4M69.2 1236.1h7.4M793.4 1236.1h-7.4" stroke="#1a1a1a" stroke-width="1.4"/>
<text transform="translate(68.8,1261.9) scale(1,1.06)" font-size="24" text-anchor="middle" stroke="#000" stroke-width="0.45">0</text>
<text transform="translate(188.4,1261.9) scale(1,1.06)" font-size="24" text-anchor="middle" stroke="#000" stroke-width="0.45">0.5</text>
<text transform="translate(310.2,1261.9) scale(1,1.06)" font-size="24" text-anchor="middle" stroke="#000" stroke-width="0.45">1</text>
<text transform="translate(429.8,1261.9) scale(1,1.06)" font-size="24" text-anchor="middle" stroke="#000" stroke-width="0.45">1.5</text>
<text transform="translate(551.6,1261.9) scale(1,1.06)" font-size="24" text-anchor="middle" stroke="#000" stroke-width="0.45">2</text>
<text transform="translate(671.2,1261.9) scale(1,1.06)" font-size="24" text-anchor="middle" stroke="#000" stroke-width="0.45">2.5</text>
<text transform="translate(793.0,1261.9) scale(1,1.06)" font-size="24" text-anchor="middle" stroke="#000" stroke-width="0.45">3</text>
<text transform="translate(63.8,899.0) scale(1,1.06)" font-size="24" text-anchor="end" stroke="#000" stroke-width="0.45">100</text>
<text transform="translate(63.8,984.9) scale(1,1.06)" font-size="24" text-anchor="end" stroke="#000" stroke-width="0.45">50</text>
<text transform="translate(63.8,1071.0) scale(1,1.06)" font-size="24" text-anchor="end" stroke="#000" stroke-width="0.45">0</text>
<text transform="translate(63.8,1157.0) scale(1,1.06)" font-size="24" text-anchor="end" stroke="#000" stroke-width="0.45">-50</text>
<text transform="translate(63.8,1245.1) scale(1,1.06)" font-size="24" text-anchor="end" stroke="#000" stroke-width="0.45">-100</text>
<text transform="translate(331.2,871.1) scale(1,1.06)" font-size="24" stroke="#000" stroke-width="0.45">with input angle 90</text>
<text x="517.2" y="858.1" font-size="22" stroke="#000" stroke-width="0.45">o</text>
<text transform="translate(18.3,1060.8) rotate(-90) scale(1.095,1.12)" font-size="24" text-anchor="middle" stroke="#000" stroke-width="0.45">Pendulum link (degree)</text>
<text transform="translate(430.0,1287.8) scale(1,1.06)" font-size="24.3" text-anchor="middle" stroke="#000" stroke-width="0.45">Time (Seconds)</text>
<rect x="552.2" y="0.8" width="239" height="111.8" fill="#fff" stroke="#1e1e1e" stroke-width="1.4"/>
<line x1="560.5" y1="16.2" x2="605.7" y2="16.2" stroke="#f01010" stroke-width="1.3"/>
<path d="M578.4 43.5h9.8M583.3 38.6v9.8" stroke="#ff10ff" stroke-width="1.3" fill="none"/>
<line x1="564.5" y1="68.8" x2="606" y2="68.8" stroke="#000" stroke-width="2.6" stroke-dasharray="11 4.5"/>
<line x1="560" y1="96" x2="607" y2="96" stroke="#1414d8" stroke-width="5.2" stroke-dasharray="1.4 4.3"/>
<text x="609.6" y="22.8" font-size="20.6" stroke="#000" stroke-width="0.35">Normal command</text>
<text x="609.6" y="49.8" font-size="20.6" stroke="#000" stroke-width="0.35">ZV Input shaping</text>
<text x="609.6" y="76.7" font-size="20.6" stroke="#000" stroke-width="0.35">ZVD input shaping</text>
<text x="609.6" y="103.6" font-size="20.6" stroke="#000" stroke-width="0.35">ZVDD Input shaping</text>
</svg></body></html>
